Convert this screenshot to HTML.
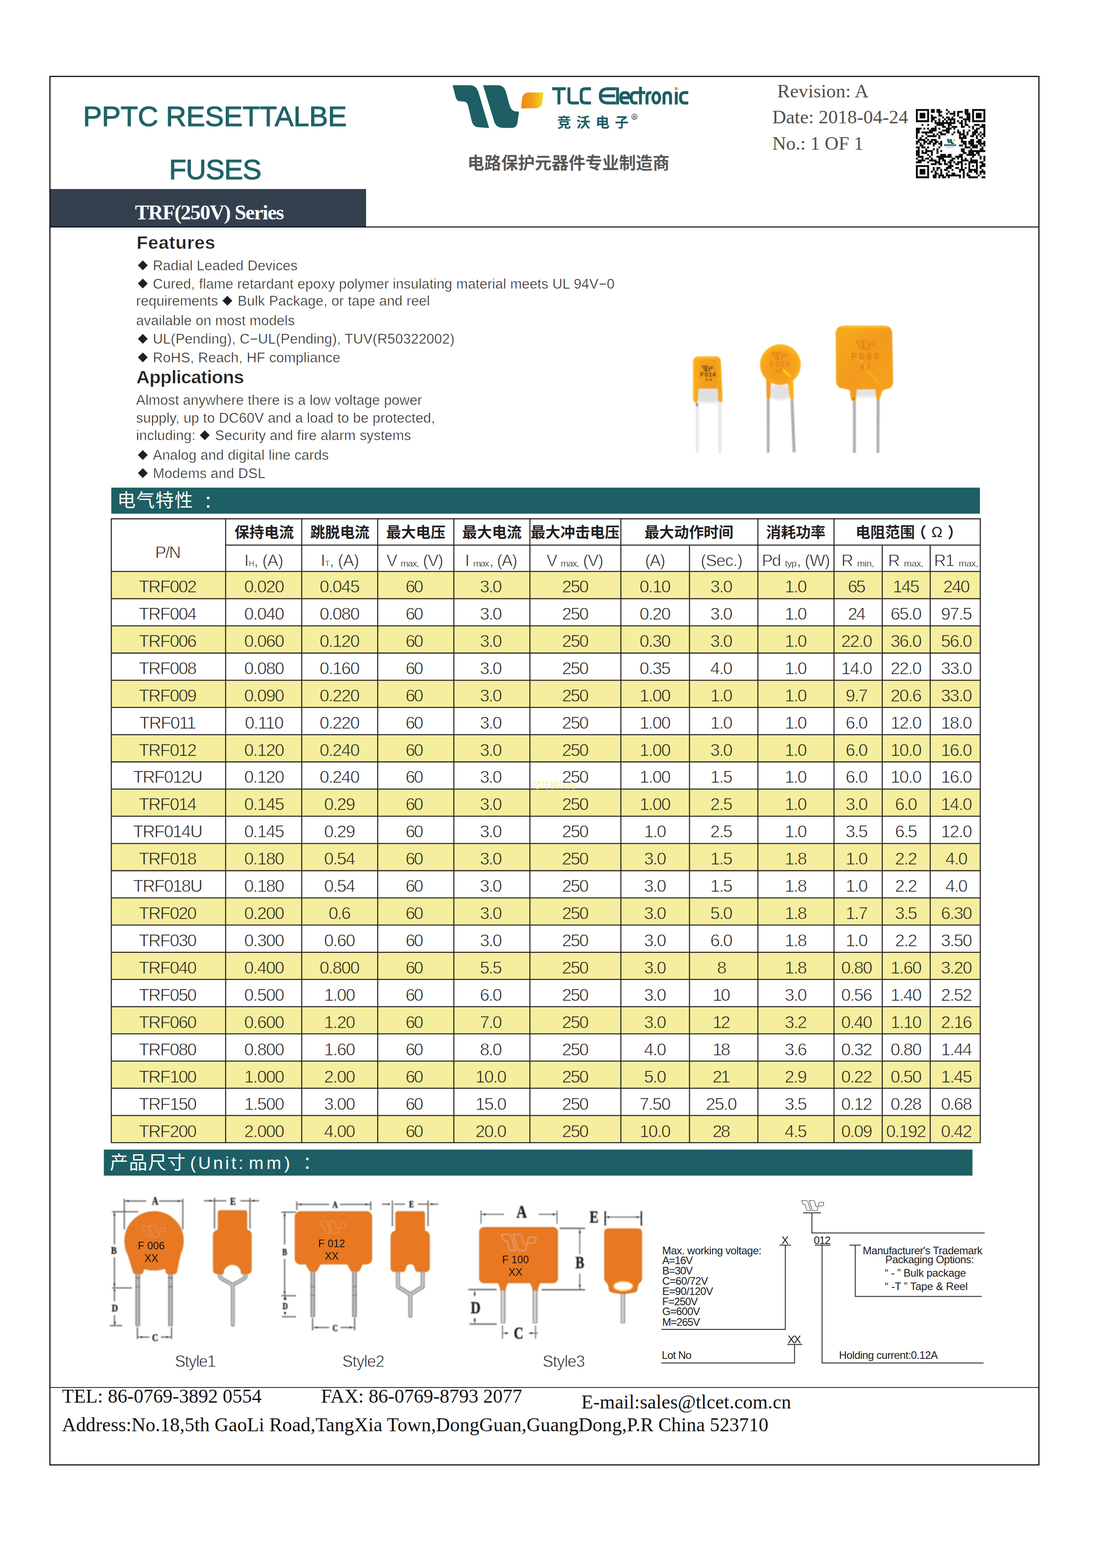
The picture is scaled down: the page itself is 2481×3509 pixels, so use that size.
<!DOCTYPE html>
<html lang="en"><head><meta charset="utf-8"><title>PPTC Resettable Fuses - TRF(250V) Series</title>
<style>
html,body{margin:0;padding:0;background:#fff;}
body{width:2481px;height:3509px;position:relative;overflow:hidden;font-family:"Liberation Sans",sans-serif;color:#231f20;}
.t{position:absolute;white-space:pre;line-height:1;font-family:"Liberation Sans",sans-serif;}
.sf{font-family:"Liberation Serif",serif;}
.c{position:absolute;text-align:center;white-space:nowrap;line-height:1;font-family:"Liberation Sans",sans-serif;}
#gfx{position:absolute;left:0;top:0;}

.lt{-webkit-text-stroke:0.6px #fff;}
.lw{-webkit-text-stroke:0.85px #fff;}
.lh{-webkit-text-stroke:0.55px #fff;}
.lws{-webkit-text-stroke:0.35px #fff;}
.ly{-webkit-text-stroke:0.85px #f5ee9e;}
sub.s{font-size:20px;vertical-align:baseline;position:relative;top:0px;}
</style></head>
<body>

<svg id="gfx" width="2481" height="3509" viewBox="0 0 2481 3509">
<!-- sec_header -->
<rect x="111.7" y="171" width="2212.5" height="3107.3" fill="none" stroke="#000" stroke-width="2.4"/>
<rect x="112" y="506.9" width="2212" height="2.1" fill="#000"/>
<g transform="translate(1000,180) scale(0.14170)">
<path fill="#1d5f64" d="M88,75 H350 C430,75 470,110 495,180 L665,752 L480,738 C430,728 405,690 390,640 L335,410 C320,350 300,335 250,332 L215,330 C165,328 145,300 135,255 Z"/>
<path fill="#1d5f64" d="M570,75 H790 C870,75 905,105 930,180 L985,380 C1005,450 1030,485 1090,490 L1137,490 L1112,670 C1100,730 1070,748 1020,750 H890 C810,750 770,720 745,650 Z"/>
<defs><linearGradient id="lg1" x1="0" x2="1" y1="0" y2="0"><stop offset="0" stop-color="#ee8a1c"/><stop offset="0.45" stop-color="#f39a16"/><stop offset="0.8" stop-color="#f6c21a"/><stop offset="1" stop-color="#f7d61c"/></linearGradient></defs>
<path fill="url(#lg1)" d="M1170,442 L1183,300 C1192,225 1225,192 1290,190 H1521 L1505,330 C1495,405 1465,438 1400,440 Z"/>
</g>
<g transform="translate(1225,185) scale(0.20333)" fill="none" stroke="#1d5f64" stroke-width="32" stroke-linejoin="round">
<path d="M50,67 H200 M125,67 V240"/>
<path d="M235,52 V190 Q235,224 270,224 H345"/>
<path d="M478,67 H415 Q370,67 370,112 V180 Q370,224 415,224 H478"/>
<path d="M752,67 H665 Q580,67 580,145 Q580,224 665,224 H752 M595,145 H742"/>
<path d="M770,52 V240"/>
<path d="M808,166 H893 V150 Q893,110 855,110 H848 Q805,110 805,166 Q805,224 850,224 H897"/>
<path d="M990,110 H958 Q920,110 920,166 Q920,224 958,224 H990"/>
<path d="M1022,45 V240 M985,110 H1075"/>
<path d="M1094,240 V150 Q1094,110 1135,110 H1142"/>
<ellipse cx="1196" cy="167" rx="38" ry="57"/>
<path d="M1281,240 V150 Q1281,110 1317,110 Q1353,110 1353,150 V240"/>
<path d="M1416,100 V240"/>
<path d="M1548,110 H1505 Q1462,110 1462,166 Q1462,224 1505,224 H1548"/>
</g>
<rect x="1509.9" y="195.2" width="6" height="6" fill="#e98b2a"/>
<text x="1246.44" y="285.30" font-family="'Liberation Sans','Noto Sans CJK SC',sans-serif" font-size="31" font-weight="700" letter-spacing="12" fill="#1d5f64">竞沃电子</text>
<circle cx="1419.4" cy="261.3" r="6" fill="none" stroke="#333" stroke-width="1.2"/>
<text x="1419.4" y="264.5" font-family="Liberation Sans" font-size="9" font-weight="700" text-anchor="middle" fill="#333">R</text>
<text x="1045.83" y="377.80" font-family="'Liberation Sans','Noto Sans CJK SC',sans-serif" font-size="37.6" font-weight="700" letter-spacing="0.1" fill="#5a5755">电路保护元器件专业制造商</text>
<!-- sec_text -->
<polygon points="319.5,582.8 330.5,593.8 319.5,604.8 308.5,593.8" fill="#231f20"/>
<polygon points="319.5,623.5 330.5,634.5 319.5,645.5 308.5,634.5" fill="#231f20"/>
<polygon points="508.7,662.0 519.7,673.0 508.7,684.0 497.7,673.0" fill="#231f20"/>
<polygon points="319.5,747.2 330.5,758.2 319.5,769.2 308.5,758.2" fill="#231f20"/>
<polygon points="319.5,788.7 330.5,799.7 319.5,810.7 308.5,799.7" fill="#231f20"/>
<polygon points="458.1,962.9 469.1,973.9 458.1,984.9 447.1,973.9" fill="#231f20"/>
<polygon points="319.5,1007.2 330.5,1018.2 319.5,1029.2 308.5,1018.2" fill="#231f20"/>
<polygon points="319.5,1047.7 330.5,1058.7 319.5,1069.7 308.5,1058.7" fill="#231f20"/>
<!-- sec_photo -->
<defs>
<filter id="bl3" x="-20%" y="-20%" width="140%" height="140%"><feGaussianBlur stdDeviation="3"/></filter>
<filter id="bl05" x="-5%" y="-5%" width="110%" height="110%"><feGaussianBlur stdDeviation="0.55"/></filter>
<filter id="bl1" x="-10%" y="-10%" width="120%" height="120%"><feGaussianBlur stdDeviation="0.8"/></filter>
<linearGradient id="pg1" x1="0" x2="1" y1="0" y2="0"><stop offset="0" stop-color="#fbb21c"/><stop offset="0.25" stop-color="#f5a21c"/><stop offset="0.75" stop-color="#f39c1a"/><stop offset="1" stop-color="#f9ae1a"/></linearGradient>
<radialGradient id="pg2" cx="0.48" cy="0.55" r="0.55"><stop offset="0" stop-color="#f39a1a"/><stop offset="0.7" stop-color="#f5a21a"/><stop offset="1" stop-color="#fbb81a"/></radialGradient>
<linearGradient id="pg3" x1="0" x2="1" y1="0" y2="1"><stop offset="0" stop-color="#f8ab1c"/><stop offset="0.5" stop-color="#f39b1c"/><stop offset="1" stop-color="#f6a51a"/></linearGradient>
<linearGradient id="ld1" x1="0" x2="1" y1="0" y2="0"><stop offset="0" stop-color="#c9c9c9"/><stop offset="0.5" stop-color="#a7a7a7"/><stop offset="1" stop-color="#b9b9b9"/></linearGradient>
<linearGradient id="ld0" x1="0" x2="1" y1="0" y2="0"><stop offset="0" stop-color="#dcdcdc"/><stop offset="0.5" stop-color="#f0f0f0"/><stop offset="1" stop-color="#dedede"/></linearGradient>
</defs>
<g filter="url(#bl1)">
<rect x="1559.7" y="869.1" width="49.0" height="31.4" fill="#dedede" filter="url(#bl3)"/>
<rect x="1557.0" y="902.4" width="6.5" height="110.9" fill="url(#ld0)"/>
<rect x="1607.2" y="900.6" width="7.0" height="113.3" fill="url(#ld0)"/>
<ellipse cx="1559.2" cy="905.2" rx="3" ry="4.5" fill="#9a9a9a"/>
<path d="M1550.5,810.9 Q1550.5,798.0 1563.4,797.6 H1601.3 Q1612.4,798.0 1612.8,810.9 L1616.5,892.2 Q1616.5,900.6 1611.5,900.6 Q1606.5,899.6 1606.0,892.2 L1605.4,870.1 H1562.9 L1561.6,894.1 Q1561.0,901.1 1556.0,901.1 Q1551.1,900.6 1550.7,892.2 Z" fill="url(#pg1)"/>
<rect x="1557.0" y="798.3" width="49.9" height="5" rx="3" fill="#fcc21e" opacity="0.8"/>
<g transform="translate(1570.8,819.2) scale(0.01605)" fill="none" stroke="#3a2c14" stroke-width="99.7" stroke-linejoin="round"><path d="M0,0 H262 C342,0 382,35 407,105 L577,677 L392,663 C342,653 317,615 302,565 L247,335 C232,275 212,260 162,257 L127,255 C77,253 57,225 47,180 Z"/><path d="M482,0 H702 C782,0 817,30 842,105 L897,305 C917,375 942,410 1002,415 L1049,415 L1024,595 C1012,655 982,673 932,675 H802 C722,675 682,645 657,575 Z"/><path d="M1082,367 L1095,225 C1104,150 1137,117 1202,115 H1433 L1417,255 C1407,330 1377,363 1312,365 Z"/></g>
<text x="1566.6" y="843.3" font-family="Liberation Sans" font-size="14.5" font-weight="700" fill="#3a2c14" textLength="35.1">F014</text>
<text x="1579.1" y="851.6" font-family="Liberation Sans" font-size="6.5" font-weight="700" fill="#3a2c14" textLength="13.9">NB</text>
<ellipse cx="1744.6" cy="877.4" rx="26" ry="18" fill="#e2e2e2" filter="url(#bl3)"/>
<polygon points="1715.0,892.2 1721.8,892.2 1721.5,1013.3 1715.2,1013.3" fill="url(#ld1)"/>
<polygon points="1767.7,892.2 1774.7,892.2 1780.3,1012.0 1773.4,1012.4" fill="url(#ld1)"/>
<path d="M1714.1,847.9 L1715.0,890.4 Q1718.7,895.9 1723.0,890.4 L1725.2,847.9 Z" fill="#f39a28"/>
<path d="M1760.3,847.9 L1766.8,890.4 Q1771.4,895.9 1776.0,890.4 L1774.2,844.2 Z" fill="#fbb418"/>
<circle cx="1745.9" cy="816.1" r="45.5" fill="url(#pg2)"/>
<line x1="1753.3" y1="829.0" x2="1766.8" y2="842.0" stroke="#fcd01c" stroke-width="5" stroke-linecap="round"/>
<g transform="translate(1727.9,789.1) scale(0.02182)" fill="none" stroke="#d9791c" stroke-width="82.5" stroke-linejoin="round"><path d="M0,0 H262 C342,0 382,35 407,105 L577,677 L392,663 C342,653 317,615 302,565 L247,335 C232,275 212,260 162,257 L127,255 C77,253 57,225 47,180 Z"/><path d="M482,0 H702 C782,0 817,30 842,105 L897,305 C917,375 942,410 1002,415 L1049,415 L1024,595 C1012,655 982,673 932,675 H802 C722,675 682,645 657,575 Z"/><path d="M1082,367 L1095,225 C1104,150 1137,117 1202,115 H1433 L1417,255 C1407,330 1377,363 1312,365 Z"/></g>
<text x="1722.0" y="820.1" font-family="Liberation Sans" font-size="16.5" font-weight="700" fill="#e27f1c" textLength="46.0">F020</text>
<text x="1735.3" y="834.0" font-family="Liberation Sans" font-size="11.5" font-weight="700" fill="#e27f1c" textLength="15.7">6P</text>
<rect x="1912.6" y="868.6" width="51.0" height="20.0" fill="#e4e4e4" filter="url(#bl3)"/>
<rect x="1907.7" y="893.0" width="7.1" height="120.7" fill="url(#ld1)"/>
<polygon points="1960.9,888.5 1968.0,888.5 1967.1,1013.6 1960.5,1013.6" fill="url(#ld1)"/>
<path d="M1869.5,746.5 Q1869.5,729.7 1888.2,728.8 H1979.1 Q1995.5,729.7 1996.0,746.5 L1998.2,853.0 Q1998.2,868.6 1983.5,870.8 Q1976.0,871.7 1972.5,877.4 L1969.8,888.5 Q1968.0,895.6 1964.5,895.6 Q1960.5,895.6 1960.0,888.5 L1958.3,871.7 H1917.0 L1915.7,888.5 Q1914.8,898.3 1909.5,898.3 Q1903.7,898.3 1902.8,888.5 L1901.5,875.2 Q1899.3,870.8 1888.2,869.9 Q1871.3,868.6 1870.4,853.0 Z" fill="url(#pg3)"/>
<rect x="1881.5" y="729.7" width="104.3" height="4.5" rx="2" fill="#fcc01e" opacity="0.8"/>
<line x1="1923.7" y1="806.4" x2="1965.8" y2="857.5" stroke="#f7ac22" stroke-width="6" stroke-linecap="round" opacity="0.8"/>
<circle cx="1909.5" cy="892.1" r="2" fill="#7a4a10"/>
<g transform="translate(1915.7,762.5) scale(0.02773)" fill="none" stroke="#dc7d1c" stroke-width="79.3" stroke-linejoin="round"><path d="M0,0 H262 C342,0 382,35 407,105 L577,677 L392,663 C342,653 317,615 302,565 L247,335 C232,275 212,260 162,257 L127,255 C77,253 57,225 47,180 Z"/><path d="M482,0 H702 C782,0 817,30 842,105 L897,305 C917,375 942,410 1002,415 L1049,415 L1024,595 C1012,655 982,673 932,675 H802 C722,675 682,645 657,575 Z"/><path d="M1082,367 L1095,225 C1104,150 1137,117 1202,115 H1433 L1417,255 C1407,330 1377,363 1312,365 Z"/></g>
<text x="1903.7" y="805.1" font-family="Liberation Sans" font-size="22" font-weight="700" fill="#dc7d1c" textLength="63.0">F060</text>
<text x="1925.0" y="826.4" font-family="Liberation Sans" font-size="16" font-weight="700" fill="#dc7d1c" textLength="20.9">6J</text>
</g>
<!-- sec_table -->
<rect x="249" y="1091.3" width="1943.3" height="58.3" fill="#1d5f64"/>
<text x="262.13" y="1133.80" font-family="'Liberation Sans','Noto Sans CJK SC',sans-serif" font-size="41" letter-spacing="1.8" fill="#fff">电气特性</text>
<circle cx="465.7" cy="1114.5" r="3" fill="#fff"/><circle cx="465.7" cy="1133.5" r="3" fill="#fff"/>
<rect x="249.0" y="1278.9" width="1944.0" height="60.9" fill="#f5ee9e"/>
<rect x="249.0" y="1400.6" width="1944.0" height="60.9" fill="#f5ee9e"/>
<rect x="249.0" y="1522.4" width="1944.0" height="60.9" fill="#f5ee9e"/>
<rect x="249.0" y="1644.1" width="1944.0" height="60.9" fill="#f5ee9e"/>
<rect x="249.0" y="1765.9" width="1944.0" height="60.9" fill="#f5ee9e"/>
<rect x="249.0" y="1887.6" width="1944.0" height="60.9" fill="#f5ee9e"/>
<rect x="249.0" y="2009.3" width="1944.0" height="60.9" fill="#f5ee9e"/>
<rect x="249.0" y="2131.1" width="1944.0" height="60.9" fill="#f5ee9e"/>
<rect x="249.0" y="2252.8" width="1944.0" height="60.9" fill="#f5ee9e"/>
<rect x="249.0" y="2374.6" width="1944.0" height="60.9" fill="#f5ee9e"/>
<rect x="249.0" y="2496.3" width="1944.0" height="60.9" fill="#f5ee9e"/>
<path d="M249.0,1160.0V2558.2M504.8,1160.0V2558.2M675.0,1160.0V2558.2M845.0,1160.0V2558.2M1015.3,1160.0V2558.2M1185.5,1160.0V2558.2M1389.0,1160.0V2558.2M1542.5,1218.8V2558.2M1695.5,1160.0V2558.2M1865.8,1160.0V2558.2M1973.7,1218.8V2558.2M2081.0,1218.8V2558.2M2193.0,1160.0V2558.2M247.9,1161.0H2194.1M504.8,1219.8H2193.0M247.9,1278.9H2194.1M247.9,1339.8H2194.1M247.9,1400.6H2194.1M247.9,1461.5H2194.1M247.9,1522.4H2194.1M247.9,1583.2H2194.1M247.9,1644.1H2194.1M247.9,1705.0H2194.1M247.9,1765.9H2194.1M247.9,1826.7H2194.1M247.9,1887.6H2194.1M247.9,1948.5H2194.1M247.9,2009.3H2194.1M247.9,2070.2H2194.1M247.9,2131.1H2194.1M247.9,2191.9H2194.1M247.9,2252.8H2194.1M247.9,2313.7H2194.1M247.9,2374.6H2194.1M247.9,2435.4H2194.1M247.9,2496.3H2194.1M247.9,2557.2H2194.1" stroke="#231f20" stroke-width="2.3" fill="none"/>
<g font-family="'Liberation Sans','Noto Sans CJK SC',sans-serif" font-size="33.2" font-weight="700" fill="#231f20">
<text x="524.58" y="1202.60">保持电流</text>
<text x="694.05" y="1202.60">跳脱电流</text>
<text x="863.98" y="1202.60">最大电压</text>
<text x="1034.08" y="1202.60">最大电流</text>
<text x="1187.08" y="1202.60">最大冲击电压</text>
<text x="1441.63" y="1202.60">最大动作时间</text>
<text x="1714.03" y="1202.60">消耗功率</text>
<text x="1913.90" y="1202.60">电阻范围</text>
<text x="2039.00" y="1202.60">（</text>
<text x="2120.00" y="1202.60">）</text>
</g>
<text x="2096" y="1202" font-family="Liberation Sans" font-size="33" text-anchor="middle" fill="#231f20">Ω</text>
<text x="1192.30" y="1764.00" font-family="'Liberation Sans','Noto Sans CJK SC',sans-serif" font-size="19" fill="#f7f48c">芯片模块网</text>
<!-- sec_dims -->
<rect x="232.3" y="2572.6" width="1943.2" height="58.3" fill="#1d5f64"/>
<text x="245.87" y="2616.20" font-family="'Liberation Sans','Noto Sans CJK SC',sans-serif" font-size="41" letter-spacing="1.7" fill="#fff">产品尺寸</text>
<text x="425.27" y="2616.20" font-family="'Liberation Sans','Noto Sans CJK SC',sans-serif" font-size="39.5" fill="#fff" textLength="119" lengthAdjust="spacing">(Unit:</text>
<text x="556.87" y="2616.20" font-family="'Liberation Sans','Noto Sans CJK SC',sans-serif" font-size="39.5" fill="#fff" textLength="92" lengthAdjust="spacing">mm)</text>
<circle cx="687.5" cy="2593.5" r="3" fill="#fff"/><circle cx="687.5" cy="2613" r="3" fill="#fff"/>
<g filter="url(#bl1)">
<g transform="translate(230,2660) scale(0.24030)"><path d="M200,95V380M745,95V380M205,115H405M525,115H745M108,215V520M108,640V925M85,215H330M85,925H270M108,945V1050M108,1180V1270M65,1275H180M322,1290V1400M640,1290V1400M325,1383H435M540,1383H640M1040,85V375M1370,85V375M940,113H1150M1280,113H1455" stroke="#747474" stroke-width="12.5" fill="none"/><circle cx="235" cy="115" r="9" fill="#222"/><circle cx="705" cy="115" r="9" fill="#222"/><circle cx="108" cy="245" r="9" fill="#222"/><circle cx="108" cy="890" r="9" fill="#222"/><circle cx="108" cy="945" r="9" fill="#222"/><circle cx="113" cy="1248" r="9" fill="#222"/><circle cx="360" cy="1383" r="9" fill="#222"/><circle cx="598" cy="1383" r="9" fill="#222"/><circle cx="1000" cy="113" r="9" fill="#222"/><circle cx="1405" cy="113" r="9" fill="#222"/><text transform="translate(487,150) scale(0.8,1)" font-family="Liberation Serif" font-weight="700" font-size="102" text-anchor="middle" fill="#1e1e1e" stroke="#1e1e1e" stroke-width="2.5">A</text><text transform="translate(103,606) scale(0.8,1)" font-family="Liberation Serif" font-weight="700" font-size="100" text-anchor="middle" fill="#1e1e1e" stroke="#1e1e1e" stroke-width="2.5">B</text><text transform="translate(112,1144) scale(0.8,1)" font-family="Liberation Serif" font-weight="700" font-size="100" text-anchor="middle" fill="#1e1e1e" stroke="#1e1e1e" stroke-width="2.5">D</text><text transform="translate(487,1420) scale(0.8,1)" font-family="Liberation Serif" font-weight="700" font-size="100" text-anchor="middle" fill="#1e1e1e" stroke="#1e1e1e" stroke-width="2.5">C</text><text transform="translate(1212,150) scale(0.8,1)" font-family="Liberation Serif" font-weight="700" font-size="100" text-anchor="middle" fill="#1e1e1e" stroke="#1e1e1e" stroke-width="2.5">E</text><rect x="303" y="780" width="44" height="502" rx="6" fill="#8d8d8d"/><rect x="315" y="780" width="19" height="496" fill="#bdbdbd"/><rect x="608" y="780" width="44" height="502" rx="6" fill="#8d8d8d"/><rect x="620" y="780" width="19" height="496" fill="#bdbdbd"/><rect x="303" y="825" width="44" height="14" fill="#7d7d7d"/><rect x="303" y="908" width="44" height="12" fill="#7d7d7d"/><rect x="608" y="825" width="44" height="14" fill="#7d7d7d"/><rect x="608" y="908" width="44" height="12" fill="#7d7d7d"/><g fill="none" stroke="#c08038" stroke-width="9"><circle cx="477" cy="487" r="272"/><path d="M233,605 Q262,700 283,770 Q287,793 312,793 H350 Q372,793 375,770 L382,742 H583 L588,770 Q592,793 615,793 H660 Q684,793 688,770 Q700,700 722,605 Z"/></g><g fill="#e87820"><circle cx="477" cy="487" r="272"/><path d="M233,605 Q262,700 283,770 Q287,793 312,793 H350 Q372,793 375,770 L382,742 H583 L588,770 Q592,793 615,793 H660 Q684,793 688,770 Q700,700 722,605 Z"/></g><g opacity="0.6"><g transform="translate(360.0,345.0) scale(0.15625)" fill="none" stroke="#e0cdb4" stroke-width="25.6" stroke-linejoin="round"><path d="M0,0 H262 C342,0 382,35 407,105 L577,677 L392,663 C342,653 317,615 302,565 L247,335 C232,275 212,260 162,257 L127,255 C77,253 57,225 47,180 Z"/><path d="M482,0 H702 C782,0 817,30 842,105 L897,305 C917,375 942,410 1002,415 L1049,415 L1024,595 C1012,655 982,673 932,675 H802 C722,675 682,645 657,575 Z"/><path d="M1082,367 L1095,225 C1104,150 1137,117 1202,115 H1433 L1417,255 C1407,330 1377,363 1312,365 Z"/></g></g><path d="M1090,790 Q1080,830 1130,852 L1210,897 L1290,852 Q1340,830 1328,790 M1210,897 V1268" stroke="#9a9a9a" stroke-width="38" fill="none" stroke-linecap="round" stroke-linejoin="round"/><path d="M1090,790 Q1080,830 1130,852 L1210,897 L1290,852 Q1340,830 1328,790 M1210,897 V1268" stroke="#c4c4c4" stroke-width="16" fill="none" stroke-linecap="round" stroke-linejoin="round"/><g fill="none" stroke="#c08038" stroke-width="9"><path d="M1075,225 Q1075,205 1095,205 H1320 Q1340,205 1340,225 V385 Q1382,395 1382,430 V750 Q1382,792 1340,792 H1292 A86,86 0 0 0 1120,792 H1070 Q1030,792 1030,750 V430 Q1030,395 1075,385 Z"/></g><g fill="#e87820"><path d="M1075,225 Q1075,205 1095,205 H1320 Q1340,205 1340,225 V385 Q1382,395 1382,430 V750 Q1382,792 1340,792 H1292 A86,86 0 0 0 1120,792 H1070 Q1030,792 1030,750 V430 Q1030,395 1075,385 Z"/></g></g>
<g transform="translate(620,2660) scale(0.24030)"><path d="M183,120V200M872,120V200M190,147H485M585,147H870M70,225V520M70,655V990M40,220H175M40,998H175M45,1193H175M330,1205V1320M722,1205V1320M340,1293H485M590,1293H720M1073,110V350M1405,110V350M975,145H1045M1090,145H1190M1310,145H1400M1420,145H1500" stroke="#747474" stroke-width="12.5" fill="none"/><circle cx="218" cy="147" r="9" fill="#222"/><circle cx="830" cy="147" r="9" fill="#222"/><circle cx="70" cy="250" r="9" fill="#222"/><circle cx="70" cy="965" r="9" fill="#222"/><circle cx="370" cy="1293" r="9" fill="#222"/><circle cx="682" cy="1293" r="9" fill="#222"/><circle cx="1040" cy="145" r="9" fill="#222"/><circle cx="1440" cy="145" r="9" fill="#222"/><path d="M58,1035 L74,1000 L90,1035 Z M62,1150 L86,1150 L74,1180 Z" fill="#222"/><text transform="translate(540,178) scale(0.8,1)" font-family="Liberation Serif" font-weight="700" font-size="86" text-anchor="middle" fill="#1e1e1e" stroke="#1e1e1e" stroke-width="2.5">A</text><text transform="translate(70,620) scale(0.8,1)" font-family="Liberation Serif" font-weight="700" font-size="84" text-anchor="middle" fill="#1e1e1e" stroke="#1e1e1e" stroke-width="2.5">B</text><text transform="translate(75,1124) scale(0.8,1)" font-family="Liberation Serif" font-weight="700" font-size="84" text-anchor="middle" fill="#1e1e1e" stroke="#1e1e1e" stroke-width="2.5">D</text><text transform="translate(540,1326) scale(0.8,1)" font-family="Liberation Serif" font-weight="700" font-size="84" text-anchor="middle" fill="#1e1e1e" stroke="#1e1e1e" stroke-width="2.5">C</text><text transform="translate(1250,176) scale(0.8,1)" font-family="Liberation Serif" font-weight="700" font-size="84" text-anchor="middle" fill="#1e1e1e" stroke="#1e1e1e" stroke-width="2.5">E</text><rect x="310" y="760" width="44" height="437" rx="6" fill="#8d8d8d"/><rect x="322" y="760" width="19" height="431" fill="#bdbdbd"/><rect x="698" y="760" width="44" height="437" rx="6" fill="#8d8d8d"/><rect x="710" y="760" width="19" height="431" fill="#bdbdbd"/><rect x="310" y="908" width="44" height="10" fill="#7d7d7d"/><rect x="310" y="990" width="44" height="10" fill="#7d7d7d"/><rect x="698" y="908" width="44" height="10" fill="#7d7d7d"/><rect x="698" y="990" width="44" height="10" fill="#7d7d7d"/><g fill="none" stroke="#c08038" stroke-width="9"><rect x="168" y="215" width="712" height="487" rx="48"/><path d="M262,690 L298,755 Q304,770 320,770 H350 Q366,770 373,755 L408,690 Z M648,690 L684,755 Q690,770 706,770 H746 Q762,770 768,755 L800,690 Z"/></g><g fill="#e87820"><rect x="168" y="215" width="712" height="487" rx="48"/><path d="M262,690 L298,755 Q304,770 320,770 H350 Q366,770 373,755 L408,690 Z M648,690 L684,755 Q690,770 706,770 H746 Q762,770 768,755 L800,690 Z"/></g><g opacity="0.6"><g transform="translate(400.0,305.0) scale(0.16667)" fill="none" stroke="#e0cdb4" stroke-width="24.0" stroke-linejoin="round"><path d="M0,0 H262 C342,0 382,35 407,105 L577,677 L392,663 C342,653 317,615 302,565 L247,335 C232,275 212,260 162,257 L127,255 C77,253 57,225 47,180 Z"/><path d="M482,0 H702 C782,0 817,30 842,105 L897,305 C917,375 942,410 1002,415 L1049,415 L1024,595 C1012,655 982,673 932,675 H802 C722,675 682,645 657,575 Z"/><path d="M1082,367 L1095,225 C1104,150 1137,117 1202,115 H1433 L1417,255 C1407,330 1377,363 1312,365 Z"/></g></g><path d="M1125,760 V915 L1240,985 M1355,760 V915 L1240,985 M1240,985 V1185" stroke="#9a9a9a" stroke-width="40" fill="none" stroke-linecap="round" stroke-linejoin="round"/><path d="M1125,760 V915 L1240,985 M1355,760 V915 L1240,985 M1240,985 V1185" stroke="#d0d0d0" stroke-width="14" fill="none" stroke-linecap="round" stroke-linejoin="round"/><g fill="none" stroke="#c08038" stroke-width="9"><path d="M1105,235 Q1105,215 1125,215 H1352 Q1372,215 1372,235 V395 Q1417,405 1417,445 V730 Q1417,772 1380,772 H1312 Q1292,772 1286,745 Q1280,700 1240,700 Q1200,700 1194,745 Q1188,772 1168,772 H1095 Q1060,772 1060,730 V445 Q1060,405 1105,395 Z"/></g><g fill="#e87820"><path d="M1105,235 Q1105,215 1125,215 H1352 Q1372,215 1372,235 V395 Q1417,405 1417,445 V730 Q1417,772 1380,772 H1312 Q1292,772 1286,745 Q1280,700 1240,700 Q1200,700 1194,745 Q1188,772 1168,772 H1095 Q1060,772 1060,730 V445 Q1060,405 1105,395 Z"/></g></g>
<g transform="translate(1030,2660) scale(0.27111)"><path d="M170,180V290M797,180V290M175,212H360M645,212H795M985,335V540M985,700V835M118,845V890M118,1065V1110M347,1130V1240M620,1130V1240M355,1193H395M565,1193H640M1200,235H1490" stroke="#747474" stroke-width="9" fill="none"/><path d="M820,328H1030 M670,835H1030 M65,833H300 M75,1118H300" stroke="#6e6e6e" stroke-width="12" fill="none"/><path d="M1195,185V305 M1493,185V305" stroke="#1a1a1a" stroke-width="11" fill="none"/><circle cx="200" cy="212" r="8" fill="#222"/><circle cx="768" cy="212" r="8" fill="#222"/><circle cx="985" cy="360" r="8" fill="#222"/><circle cx="985" cy="800" r="8" fill="#222"/><circle cx="118" cy="870" r="8" fill="#222"/><circle cx="118" cy="1085" r="8" fill="#222"/><circle cx="378" cy="1193" r="8" fill="#222"/><circle cx="585" cy="1193" r="8" fill="#222"/><circle cx="1222" cy="235" r="8" fill="#222"/><circle cx="1460" cy="235" r="8" fill="#222"/><text transform="translate(505,240) scale(0.8,1)" font-family="Liberation Serif" font-weight="700" font-size="150" text-anchor="middle" fill="#1e1e1e" stroke="#1e1e1e" stroke-width="2.5">A</text><text transform="translate(985,655) scale(0.8,1)" font-family="Liberation Serif" font-weight="700" font-size="137" text-anchor="middle" fill="#1e1e1e" stroke="#1e1e1e" stroke-width="2.5">B</text><text transform="translate(125,1030) scale(0.8,1)" font-family="Liberation Serif" font-weight="700" font-size="140" text-anchor="middle" fill="#1e1e1e" stroke="#1e1e1e" stroke-width="2.5">D</text><text transform="translate(480,1238) scale(0.8,1)" font-family="Liberation Serif" font-weight="700" font-size="137" text-anchor="middle" fill="#1e1e1e" stroke="#1e1e1e" stroke-width="2.5">C</text><text transform="translate(1103,280) scale(0.8,1)" font-family="Liberation Serif" font-weight="700" font-size="137" text-anchor="middle" fill="#1e1e1e" stroke="#1e1e1e" stroke-width="2.5">E</text><rect x="333" y="830" width="39" height="283" rx="6" fill="#9b9b9b"/><rect x="343" y="830" width="17" height="277" fill="#d8d8d8"/><rect x="596" y="830" width="41" height="283" rx="6" fill="#9b9b9b"/><rect x="607" y="830" width="18" height="277" fill="#d8d8d8"/><rect x="157" y="320" width="646" height="458" rx="38" fill="#e87820" stroke="#bf6a1c" stroke-width="4"/><path d="M298,772 Q325,790 328,842 H374 Q377,790 404,772 Z M563,772 Q590,790 594,842 H641 Q644,790 670,772 Z" fill="#e87820"/><g opacity="0.75"><g transform="translate(340.0,378.0) scale(0.19792)" fill="none" stroke="#e6d8c6" stroke-width="22.7" stroke-linejoin="round"><path d="M0,0 H262 C342,0 382,35 407,105 L577,677 L392,663 C342,653 317,615 302,565 L247,335 C232,275 212,260 162,257 L127,255 C77,253 57,225 47,180 Z"/><path d="M482,0 H702 C782,0 817,30 842,105 L897,305 C917,375 942,410 1002,415 L1049,415 L1024,595 C1012,655 982,673 932,675 H802 C722,675 682,645 657,575 Z"/><path d="M1082,367 L1095,225 C1104,150 1137,117 1202,115 H1433 L1417,255 C1407,330 1377,363 1312,365 Z"/></g></g><rect x="1322" y="850" width="38" height="263" rx="6" fill="#9b9b9b"/><rect x="1332" y="850" width="16" height="257" fill="#d8d8d8"/><path d="M1188,365 Q1188,330 1223,330 H1462 Q1497,330 1497,365 V740 Q1497,760 1480,775 Q1462,790 1460,830 Q1458,852 1430,857 L1362,868 H1325 L1255,857 Q1228,852 1226,830 Q1224,790 1206,775 Q1188,760 1188,740 Z" fill="#e87820" stroke="#c27a2a" stroke-width="4"/><ellipse cx="1343" cy="805" rx="76" ry="36" fill="#fff" stroke="#f6dc86" stroke-width="9"/></g>
</g>
<g transform="translate(230,2660) scale(0.24030)"><text x="452" y="565" font-family="Liberation Sans" font-size="98" text-anchor="middle" fill="#111">F 006</text><text x="452" y="683" font-family="Liberation Sans" font-size="98" text-anchor="middle" fill="#111">XX</text></g>
<g transform="translate(620,2660) scale(0.24030)"><text x="508" y="545" font-family="Liberation Sans" font-size="98" text-anchor="middle" fill="#111">F 012</text><text x="508" y="662" font-family="Liberation Sans" font-size="98" text-anchor="middle" fill="#111">XX</text></g>
<g transform="translate(1030,2660) scale(0.27111)"><text x="455" y="615" font-family="Liberation Sans" font-size="86" text-anchor="middle" fill="#111">F 100</text><text x="455" y="718" font-family="Liberation Sans" font-size="86" text-anchor="middle" fill="#111">XX</text></g>
<!-- sec_partnum -->
<path d="M1797.7,2714.3H1835.6M1816.4,2714.3V2759.2M1816.4,2759.2H2201.9M1744.7,2786.5H1768.4M1756.8,2786.5V2975.0M1480.4,2975.0H1756.8M1824.0,2786.5H1856.8M1839.1,2786.5V3050.2M1839.1,3050.2H2199.4M1901.3,2786.5H1925.0M1913.4,2786.5V2901.2M1913.4,2901.2H2195.3M1762.3,3008.8H1793.7M1777.5,3008.8V3050.2M1480.4,3050.2H1777.5" stroke="#2a2a2a" stroke-width="2" fill="none" stroke-linecap="square"/>
<g transform="translate(1793.7,2686.5) scale(0.03438)" fill="none" stroke="#333" stroke-width="32.0" stroke-linejoin="round"><path d="M0,0 H262 C342,0 382,35 407,105 L577,677 L392,663 C342,653 317,615 302,565 L247,335 C232,275 212,260 162,257 L127,255 C77,253 57,225 47,180 Z"/><path d="M482,0 H702 C782,0 817,30 842,105 L897,305 C917,375 942,410 1002,415 L1049,415 L1024,595 C1012,655 982,673 932,675 H802 C722,675 682,645 657,575 Z"/><path d="M1082,367 L1095,225 C1104,150 1137,117 1202,115 H1433 L1417,255 C1407,330 1377,363 1312,365 Z"/></g>
<!-- sec_footer -->
<rect x="112" y="3104.2" width="2212" height="1.7" fill="#111"/>
<!-- sec_qr -->
<g filter="url(#bl05)"><path d="M2049.0,244.0h29.5v4.3h-29.5zM2082.6,244.0h8.5v4.3h-8.5zM2095.1,244.0h8.5v4.3h-8.5zM2116.1,244.0h4.3v4.3h-4.3zM2158.1,244.0h8.5v4.3h-8.5zM2174.8,244.0h29.5v4.3h-29.5zM2049.0,248.2h4.3v4.3h-4.3zM2074.2,248.2h4.3v4.3h-4.3zM2082.6,248.2h8.5v4.3h-8.5zM2095.1,248.2h12.7v4.3h-12.7zM2120.3,248.2h4.3v4.3h-4.3zM2132.9,248.2h4.3v4.3h-4.3zM2141.3,248.2h12.7v4.3h-12.7zM2158.1,248.2h8.5v4.3h-8.5zM2174.8,248.2h4.3v4.3h-4.3zM2200.0,248.2h4.3v4.3h-4.3zM2049.0,252.4h4.3v4.3h-4.3zM2057.4,252.4h12.7v4.3h-12.7zM2074.2,252.4h4.3v4.3h-4.3zM2099.3,252.4h4.3v4.3h-4.3zM2116.1,252.4h4.3v4.3h-4.3zM2124.5,252.4h12.7v4.3h-12.7zM2141.3,252.4h4.3v4.3h-4.3zM2158.1,252.4h12.7v4.3h-12.7zM2174.8,252.4h4.3v4.3h-4.3zM2183.2,252.4h12.7v4.3h-12.7zM2200.0,252.4h4.3v4.3h-4.3zM2049.0,256.6h4.3v4.3h-4.3zM2057.4,256.6h12.7v4.3h-12.7zM2074.2,256.6h4.3v4.3h-4.3zM2082.6,256.6h4.3v4.3h-4.3zM2099.3,256.6h8.5v4.3h-8.5zM2132.9,256.6h4.3v4.3h-4.3zM2141.3,256.6h4.3v4.3h-4.3zM2162.3,256.6h8.5v4.3h-8.5zM2174.8,256.6h4.3v4.3h-4.3zM2183.2,256.6h12.7v4.3h-12.7zM2200.0,256.6h4.3v4.3h-4.3zM2049.0,260.7h4.3v4.3h-4.3zM2057.4,260.7h12.7v4.3h-12.7zM2074.2,260.7h4.3v4.3h-4.3zM2082.6,260.7h12.7v4.3h-12.7zM2107.7,260.7h4.3v4.3h-4.3zM2116.1,260.7h8.5v4.3h-8.5zM2128.7,260.7h4.3v4.3h-4.3zM2145.5,260.7h8.5v4.3h-8.5zM2162.3,260.7h8.5v4.3h-8.5zM2174.8,260.7h4.3v4.3h-4.3zM2183.2,260.7h12.7v4.3h-12.7zM2200.0,260.7h4.3v4.3h-4.3zM2049.0,264.9h4.3v4.3h-4.3zM2074.2,264.9h4.3v4.3h-4.3zM2082.6,264.9h8.5v4.3h-8.5zM2099.3,264.9h4.3v4.3h-4.3zM2111.9,264.9h4.3v4.3h-4.3zM2120.3,264.9h16.9v4.3h-16.9zM2153.9,264.9h16.9v4.3h-16.9zM2174.8,264.9h4.3v4.3h-4.3zM2200.0,264.9h4.3v4.3h-4.3zM2049.0,269.1h29.5v4.3h-29.5zM2082.6,269.1h4.3v4.3h-4.3zM2090.9,269.1h4.3v4.3h-4.3zM2099.3,269.1h4.3v4.3h-4.3zM2107.7,269.1h4.3v4.3h-4.3zM2116.1,269.1h4.3v4.3h-4.3zM2124.5,269.1h4.3v4.3h-4.3zM2132.9,269.1h4.3v4.3h-4.3zM2141.3,269.1h4.3v4.3h-4.3zM2149.7,269.1h4.3v4.3h-4.3zM2158.1,269.1h4.3v4.3h-4.3zM2166.4,269.1h4.3v4.3h-4.3zM2174.8,269.1h29.5v4.3h-29.5zM2090.9,273.3h46.3v4.3h-46.3zM2145.5,273.3h8.5v4.3h-8.5zM2158.1,273.3h4.3v4.3h-4.3zM2061.6,277.5h4.3v4.3h-4.3zM2074.2,277.5h4.3v4.3h-4.3zM2095.1,277.5h16.9v4.3h-16.9zM2120.3,277.5h8.5v4.3h-8.5zM2149.7,277.5h4.3v4.3h-4.3zM2158.1,277.5h8.5v4.3h-8.5zM2179.0,277.5h12.7v4.3h-12.7zM2195.8,277.5h8.5v4.3h-8.5zM2090.9,281.7h4.3v4.3h-4.3zM2107.7,281.7h8.5v4.3h-8.5zM2120.3,281.7h4.3v4.3h-4.3zM2128.7,281.7h12.7v4.3h-12.7zM2149.7,281.7h8.5v4.3h-8.5zM2166.4,281.7h4.3v4.3h-4.3zM2174.8,281.7h4.3v4.3h-4.3zM2191.6,281.7h12.7v4.3h-12.7zM2049.0,285.8h12.7v4.3h-12.7zM2065.8,285.8h4.3v4.3h-4.3zM2074.2,285.8h4.3v4.3h-4.3zM2082.6,285.8h12.7v4.3h-12.7zM2099.3,285.8h4.3v4.3h-4.3zM2116.1,285.8h12.7v4.3h-12.7zM2132.9,285.8h4.3v4.3h-4.3zM2174.8,285.8h4.3v4.3h-4.3zM2183.2,285.8h8.5v4.3h-8.5zM2200.0,285.8h4.3v4.3h-4.3zM2049.0,290.0h8.5v4.3h-8.5zM2078.4,290.0h16.9v4.3h-16.9zM2107.7,290.0h16.9v4.3h-16.9zM2141.3,290.0h4.3v4.3h-4.3zM2153.9,290.0h4.3v4.3h-4.3zM2166.4,290.0h4.3v4.3h-4.3zM2179.0,290.0h8.5v4.3h-8.5zM2200.0,290.0h4.3v4.3h-4.3zM2049.0,294.2h8.5v4.3h-8.5zM2061.6,294.2h25.3v4.3h-25.3zM2099.3,294.2h8.5v4.3h-8.5zM2116.1,294.2h8.5v4.3h-8.5zM2132.9,294.2h4.3v4.3h-4.3zM2141.3,294.2h8.5v4.3h-8.5zM2153.9,294.2h4.3v4.3h-4.3zM2162.3,294.2h4.3v4.3h-4.3zM2174.8,294.2h12.7v4.3h-12.7zM2191.6,294.2h4.3v4.3h-4.3zM2200.0,294.2h4.3v4.3h-4.3zM2049.0,298.4h4.3v4.3h-4.3zM2070.0,298.4h4.3v4.3h-4.3zM2086.8,298.4h4.3v4.3h-4.3zM2095.1,298.4h4.3v4.3h-4.3zM2103.5,298.4h12.7v4.3h-12.7zM2128.7,298.4h4.3v4.3h-4.3zM2145.5,298.4h12.7v4.3h-12.7zM2162.3,298.4h4.3v4.3h-4.3zM2174.8,298.4h8.5v4.3h-8.5zM2187.4,298.4h4.3v4.3h-4.3zM2195.8,298.4h8.5v4.3h-8.5zM2049.0,302.6h4.3v4.3h-4.3zM2061.6,302.6h4.3v4.3h-4.3zM2074.2,302.6h21.1v4.3h-21.1zM2099.3,302.6h4.3v4.3h-4.3zM2145.5,302.6h4.3v4.3h-4.3zM2153.9,302.6h8.5v4.3h-8.5zM2170.6,302.6h8.5v4.3h-8.5zM2183.2,302.6h4.3v4.3h-4.3zM2191.6,302.6h4.3v4.3h-4.3zM2200.0,302.6h4.3v4.3h-4.3zM2049.0,306.8h4.3v4.3h-4.3zM2057.4,306.8h4.3v4.3h-4.3zM2070.0,306.8h4.3v4.3h-4.3zM2099.3,306.8h4.3v4.3h-4.3zM2145.5,306.8h16.9v4.3h-16.9zM2183.2,306.8h4.3v4.3h-4.3zM2195.8,306.8h4.3v4.3h-4.3zM2053.2,310.9h16.9v4.3h-16.9zM2074.2,310.9h4.3v4.3h-4.3zM2082.6,310.9h12.7v4.3h-12.7zM2149.7,310.9h4.3v4.3h-4.3zM2170.6,310.9h8.5v4.3h-8.5zM2187.4,310.9h8.5v4.3h-8.5zM2049.0,315.1h8.5v4.3h-8.5zM2065.8,315.1h8.5v4.3h-8.5zM2078.4,315.1h8.5v4.3h-8.5zM2090.9,315.1h8.5v4.3h-8.5zM2103.5,315.1h4.3v4.3h-4.3zM2149.7,315.1h12.7v4.3h-12.7zM2166.4,315.1h12.7v4.3h-12.7zM2183.2,315.1h12.7v4.3h-12.7zM2200.0,315.1h4.3v4.3h-4.3zM2049.0,319.3h4.3v4.3h-4.3zM2057.4,319.3h4.3v4.3h-4.3zM2065.8,319.3h4.3v4.3h-4.3zM2074.2,319.3h8.5v4.3h-8.5zM2086.8,319.3h8.5v4.3h-8.5zM2099.3,319.3h8.5v4.3h-8.5zM2153.9,319.3h8.5v4.3h-8.5zM2166.4,319.3h12.7v4.3h-12.7zM2187.4,319.3h16.9v4.3h-16.9zM2057.4,323.5h8.5v4.3h-8.5zM2086.8,323.5h4.3v4.3h-4.3zM2103.5,323.5h4.3v4.3h-4.3zM2145.5,323.5h8.5v4.3h-8.5zM2158.1,323.5h4.3v4.3h-4.3zM2170.6,323.5h16.9v4.3h-16.9zM2191.6,323.5h4.3v4.3h-4.3zM2200.0,323.5h4.3v4.3h-4.3zM2049.0,327.7h8.5v4.3h-8.5zM2061.6,327.7h8.5v4.3h-8.5zM2074.2,327.7h4.3v4.3h-4.3zM2099.3,327.7h4.3v4.3h-4.3zM2158.1,327.7h12.7v4.3h-12.7zM2174.8,327.7h12.7v4.3h-12.7zM2195.8,327.7h4.3v4.3h-4.3zM2053.2,331.9h4.3v4.3h-4.3zM2070.0,331.9h4.3v4.3h-4.3zM2086.8,331.9h4.3v4.3h-4.3zM2095.1,331.9h4.3v4.3h-4.3zM2149.7,331.9h8.5v4.3h-8.5zM2170.6,331.9h4.3v4.3h-4.3zM2191.6,331.9h8.5v4.3h-8.5zM2049.0,336.0h8.5v4.3h-8.5zM2061.6,336.0h4.3v4.3h-4.3zM2070.0,336.0h16.9v4.3h-16.9zM2095.1,336.0h4.3v4.3h-4.3zM2103.5,336.0h4.3v4.3h-4.3zM2149.7,336.0h8.5v4.3h-8.5zM2166.4,336.0h37.9v4.3h-37.9zM2049.0,340.2h8.5v4.3h-8.5zM2061.6,340.2h12.7v4.3h-12.7zM2082.6,340.2h4.3v4.3h-4.3zM2095.1,340.2h4.3v4.3h-4.3zM2153.9,340.2h8.5v4.3h-8.5zM2166.4,340.2h12.7v4.3h-12.7zM2183.2,340.2h8.5v4.3h-8.5zM2049.0,344.4h8.5v4.3h-8.5zM2074.2,344.4h4.3v4.3h-4.3zM2082.6,344.4h4.3v4.3h-4.3zM2103.5,344.4h12.7v4.3h-12.7zM2120.3,344.4h8.5v4.3h-8.5zM2145.5,344.4h8.5v4.3h-8.5zM2162.3,344.4h21.1v4.3h-21.1zM2187.4,344.4h4.3v4.3h-4.3zM2053.2,348.6h12.7v4.3h-12.7zM2078.4,348.6h4.3v4.3h-4.3zM2095.1,348.6h33.7v4.3h-33.7zM2137.1,348.6h16.9v4.3h-16.9zM2174.8,348.6h4.3v4.3h-4.3zM2191.6,348.6h4.3v4.3h-4.3zM2200.0,348.6h4.3v4.3h-4.3zM2049.0,352.8h4.3v4.3h-4.3zM2061.6,352.8h4.3v4.3h-4.3zM2070.0,352.8h8.5v4.3h-8.5zM2082.6,352.8h4.3v4.3h-4.3zM2099.3,352.8h12.7v4.3h-12.7zM2128.7,352.8h8.5v4.3h-8.5zM2141.3,352.8h4.3v4.3h-4.3zM2149.7,352.8h4.3v4.3h-4.3zM2158.1,352.8h4.3v4.3h-4.3zM2170.6,352.8h4.3v4.3h-4.3zM2191.6,352.8h4.3v4.3h-4.3zM2200.0,352.8h4.3v4.3h-4.3zM2053.2,357.0h16.9v4.3h-16.9zM2078.4,357.0h16.9v4.3h-16.9zM2099.3,357.0h4.3v4.3h-4.3zM2107.7,357.0h8.5v4.3h-8.5zM2124.5,357.0h8.5v4.3h-8.5zM2149.7,357.0h16.9v4.3h-16.9zM2170.6,357.0h16.9v4.3h-16.9zM2200.0,357.0h4.3v4.3h-4.3zM2049.0,361.1h12.7v4.3h-12.7zM2074.2,361.1h4.3v4.3h-4.3zM2090.9,361.1h12.7v4.3h-12.7zM2111.9,361.1h4.3v4.3h-4.3zM2120.3,361.1h8.5v4.3h-8.5zM2132.9,361.1h4.3v4.3h-4.3zM2141.3,361.1h12.7v4.3h-12.7zM2166.4,361.1h21.1v4.3h-21.1zM2191.6,361.1h8.5v4.3h-8.5zM2082.6,365.3h12.7v4.3h-12.7zM2099.3,365.3h8.5v4.3h-8.5zM2111.9,365.3h8.5v4.3h-8.5zM2124.5,365.3h4.3v4.3h-4.3zM2137.1,365.3h8.5v4.3h-8.5zM2149.7,365.3h4.3v4.3h-4.3zM2158.1,365.3h4.3v4.3h-4.3zM2166.4,365.3h4.3v4.3h-4.3zM2183.2,365.3h4.3v4.3h-4.3zM2195.8,365.3h8.5v4.3h-8.5zM2049.0,369.5h29.5v4.3h-29.5zM2120.3,369.5h12.7v4.3h-12.7zM2149.7,369.5h4.3v4.3h-4.3zM2166.4,369.5h4.3v4.3h-4.3zM2174.8,369.5h4.3v4.3h-4.3zM2183.2,369.5h4.3v4.3h-4.3zM2191.6,369.5h12.7v4.3h-12.7zM2049.0,373.7h4.3v4.3h-4.3zM2074.2,373.7h4.3v4.3h-4.3zM2086.8,373.7h4.3v4.3h-4.3zM2095.1,373.7h8.5v4.3h-8.5zM2116.1,373.7h12.7v4.3h-12.7zM2137.1,373.7h8.5v4.3h-8.5zM2149.7,373.7h4.3v4.3h-4.3zM2158.1,373.7h4.3v4.3h-4.3zM2166.4,373.7h4.3v4.3h-4.3zM2183.2,373.7h4.3v4.3h-4.3zM2191.6,373.7h4.3v4.3h-4.3zM2049.0,377.9h4.3v4.3h-4.3zM2057.4,377.9h12.7v4.3h-12.7zM2074.2,377.9h4.3v4.3h-4.3zM2086.8,377.9h4.3v4.3h-4.3zM2095.1,377.9h4.3v4.3h-4.3zM2103.5,377.9h4.3v4.3h-4.3zM2111.9,377.9h8.5v4.3h-8.5zM2128.7,377.9h4.3v4.3h-4.3zM2145.5,377.9h12.7v4.3h-12.7zM2166.4,377.9h21.1v4.3h-21.1zM2195.8,377.9h4.3v4.3h-4.3zM2049.0,382.1h4.3v4.3h-4.3zM2057.4,382.1h12.7v4.3h-12.7zM2074.2,382.1h4.3v4.3h-4.3zM2082.6,382.1h4.3v4.3h-4.3zM2090.9,382.1h4.3v4.3h-4.3zM2103.5,382.1h4.3v4.3h-4.3zM2120.3,382.1h4.3v4.3h-4.3zM2145.5,382.1h4.3v4.3h-4.3zM2153.9,382.1h4.3v4.3h-4.3zM2166.4,382.1h8.5v4.3h-8.5zM2179.0,382.1h8.5v4.3h-8.5zM2191.6,382.1h12.7v4.3h-12.7zM2049.0,386.2h4.3v4.3h-4.3zM2057.4,386.2h12.7v4.3h-12.7zM2074.2,386.2h4.3v4.3h-4.3zM2090.9,386.2h8.5v4.3h-8.5zM2103.5,386.2h4.3v4.3h-4.3zM2116.1,386.2h4.3v4.3h-4.3zM2128.7,386.2h8.5v4.3h-8.5zM2153.9,386.2h4.3v4.3h-4.3zM2162.3,386.2h4.3v4.3h-4.3zM2183.2,386.2h4.3v4.3h-4.3zM2191.6,386.2h4.3v4.3h-4.3zM2200.0,386.2h4.3v4.3h-4.3zM2049.0,390.4h4.3v4.3h-4.3zM2074.2,390.4h4.3v4.3h-4.3zM2086.8,390.4h8.5v4.3h-8.5zM2099.3,390.4h12.7v4.3h-12.7zM2116.1,390.4h33.7v4.3h-33.7zM2153.9,390.4h4.3v4.3h-4.3zM2162.3,390.4h8.5v4.3h-8.5zM2187.4,390.4h4.3v4.3h-4.3zM2049.0,394.6h29.5v4.3h-29.5zM2086.8,394.6h8.5v4.3h-8.5zM2099.3,394.6h4.3v4.3h-4.3zM2107.7,394.6h8.5v4.3h-8.5zM2120.3,394.6h4.3v4.3h-4.3zM2145.5,394.6h4.3v4.3h-4.3zM2153.9,394.6h4.3v4.3h-4.3zM2166.4,394.6h21.1v4.3h-21.1zM2195.8,394.6h8.5v4.3h-8.5z" fill="#0c0c0c"/>
<rect x="2112" y="322.5" width="27" height="4.5" fill="#355f74" opacity="0.85"/><path d="M2118,311 h5 l3,9 h-5 z M2124.5,311 h4 l2,6 q1,3 4,3 l-0.5,2 h-5 q-2,0 -3,-3 z" fill="#1d5f64"/><rect x="2133" y="312" width="4" height="4" fill="#f0b030"/><rect x="2117" y="329.5" width="17" height="1.6" fill="#999" opacity="0.7"/>
</g>
</svg>
<!-- sec_header -->
<div class="t" style="left:185.8px;top:228.6px;font-size:63.5px;letter-spacing:-0.37px;color:#1f6368;-webkit-text-stroke:1.3px #1f6368;">PPTC RESETTALBE</div>
<div class="t" style="left:378.0px;top:348.3px;font-size:63.5px;letter-spacing:-1.18px;color:#1f6368;-webkit-text-stroke:1.3px #1f6368;">FUSES</div>
<div style="position:absolute;left:113px;top:423px;width:705.5px;height:83.8px;background:#35404f"></div>
<div class="t sf" style="left:302.0px;top:452.6px;font-size:46.5px;letter-spacing:-1.60px;color:#fff;font-weight:700;">TRF(250V) Series</div>
<div class="t sf" style="left:1738.8px;top:182.7px;font-size:42.8px;letter-spacing:0.07px;color:#524e4a;">Revision: A</div>
<div class="t sf" style="left:1727.7px;top:241.1px;font-size:42.8px;letter-spacing:0.06px;color:#524e4a;">Date: 2018-04-24</div>
<div class="t sf" style="left:1727.7px;top:299.5px;font-size:42.8px;letter-spacing:-0.05px;color:#524e4a;">No.: 1 OF 1</div>
<!-- sec_text -->
<div class="t lh" style="left:305.5px;top:523.4px;font-size:41.3px;letter-spacing:0.55px;color:#231f20;font-weight:700;">Features</div>
<div class="t lh" style="left:305.0px;top:823.6px;font-size:41.3px;letter-spacing:-0.62px;color:#231f20;font-weight:700;">Applications</div>
<div class="t lt" style="left:342.0px;top:578.9px;font-size:31.0px;letter-spacing:0.23px;color:#231f20;">Radial Leaded Devices</div>
<div class="t lt" style="left:342.0px;top:619.6px;font-size:31.0px;letter-spacing:0.21px;color:#231f20;">Cured, flame retardant epoxy polymer insulating material meets UL 94V−0</div>
<div class="t lt" style="left:304.5px;top:658.1px;font-size:31.0px;letter-spacing:0.22px;color:#231f20;">requirements </div>
<div class="t lt" style="left:531.7px;top:658.1px;font-size:31.0px;letter-spacing:0.21px;color:#231f20;">Bulk Package, or tape and reel</div>
<div class="t lt" style="left:304.5px;top:702.0px;font-size:31.0px;letter-spacing:0.22px;color:#231f20;">available on most models</div>
<div class="t lt" style="left:342.0px;top:743.3px;font-size:31.0px;letter-spacing:0.23px;color:#231f20;">UL(Pending), C−UL(Pending), TUV(R50322002)</div>
<div class="t lt" style="left:342.0px;top:784.8px;font-size:31.0px;letter-spacing:0.23px;color:#231f20;">RoHS, Reach, HF compliance</div>
<div class="t lt" style="left:304.5px;top:879.5px;font-size:31.0px;letter-spacing:0.21px;color:#231f20;">Almost anywhere there is a low voltage power</div>
<div class="t lt" style="left:304.5px;top:920.0px;font-size:31.0px;letter-spacing:0.20px;color:#231f20;">supply, up to DC60V and a load to be protected,</div>
<div class="t lt" style="left:304.5px;top:959.0px;font-size:31.0px;letter-spacing:0.20px;color:#231f20;">including: </div>
<div class="t lt" style="left:481.1px;top:959.0px;font-size:31.0px;letter-spacing:0.20px;color:#231f20;">Security and fire alarm systems</div>
<div class="t lt" style="left:342.0px;top:1003.3px;font-size:31.0px;letter-spacing:0.20px;color:#231f20;">Analog and digital line cards</div>
<div class="t lt" style="left:342.0px;top:1043.8px;font-size:31.0px;letter-spacing:0.27px;color:#231f20;">Modems and DSL</div>
<!-- sec_table -->
<div class="t ly" style="left:310.4px;top:1293.8px;font-size:38.8px;letter-spacing:-2.02px;color:#231f20;">TRF002</div>
<div class="t ly" style="left:546.3px;top:1293.8px;font-size:38.8px;letter-spacing:-1.75px;color:#231f20;">0.020</div>
<div class="t ly" style="left:714.9px;top:1293.8px;font-size:38.8px;letter-spacing:-1.75px;color:#231f20;">0.045</div>
<div class="t ly" style="left:907.3px;top:1293.8px;font-size:38.8px;letter-spacing:-3.11px;color:#231f20;">60</div>
<div class="t ly" style="left:1073.4px;top:1293.8px;font-size:38.8px;letter-spacing:-1.94px;color:#231f20;">3.0</div>
<div class="t ly" style="left:1257.2px;top:1293.8px;font-size:38.8px;letter-spacing:-2.33px;color:#231f20;">250</div>
<div class="t ly" style="left:1430.7px;top:1293.8px;font-size:38.8px;letter-spacing:-1.81px;color:#231f20;">0.10</div>
<div class="t ly" style="left:1589.0px;top:1293.8px;font-size:38.8px;letter-spacing:-1.94px;color:#231f20;">3.0</div>
<div class="t ly" style="left:1755.6px;top:1293.8px;font-size:38.8px;letter-spacing:-1.94px;color:#231f20;">1.0</div>
<div class="t ly" style="left:1896.7px;top:1293.8px;font-size:38.8px;letter-spacing:-3.11px;color:#231f20;">65</div>
<div class="t ly" style="left:1997.3px;top:1293.8px;font-size:38.8px;letter-spacing:-2.33px;color:#231f20;">145</div>
<div class="t ly" style="left:2110.0px;top:1293.8px;font-size:38.8px;letter-spacing:-2.33px;color:#231f20;">240</div>
<div class="t lw" style="left:310.4px;top:1354.7px;font-size:38.8px;letter-spacing:-2.02px;color:#231f20;">TRF004</div>
<div class="t lw" style="left:546.3px;top:1354.7px;font-size:38.8px;letter-spacing:-1.75px;color:#231f20;">0.040</div>
<div class="t lw" style="left:714.9px;top:1354.7px;font-size:38.8px;letter-spacing:-1.75px;color:#231f20;">0.080</div>
<div class="t lw" style="left:907.3px;top:1354.7px;font-size:38.8px;letter-spacing:-3.11px;color:#231f20;">60</div>
<div class="t lw" style="left:1073.4px;top:1354.7px;font-size:38.8px;letter-spacing:-1.94px;color:#231f20;">3.0</div>
<div class="t lw" style="left:1257.2px;top:1354.7px;font-size:38.8px;letter-spacing:-2.33px;color:#231f20;">250</div>
<div class="t lw" style="left:1430.7px;top:1354.7px;font-size:38.8px;letter-spacing:-1.81px;color:#231f20;">0.20</div>
<div class="t lw" style="left:1589.0px;top:1354.7px;font-size:38.8px;letter-spacing:-1.94px;color:#231f20;">3.0</div>
<div class="t lw" style="left:1755.6px;top:1354.7px;font-size:38.8px;letter-spacing:-1.94px;color:#231f20;">1.0</div>
<div class="t lw" style="left:1896.7px;top:1354.7px;font-size:38.8px;letter-spacing:-3.11px;color:#231f20;">24</div>
<div class="t lw" style="left:1992.3px;top:1354.7px;font-size:38.8px;letter-spacing:-1.81px;color:#231f20;">65.0</div>
<div class="t lw" style="left:2105.0px;top:1354.7px;font-size:38.8px;letter-spacing:-1.81px;color:#231f20;">97.5</div>
<div class="t ly" style="left:310.4px;top:1415.7px;font-size:38.8px;letter-spacing:-2.02px;color:#231f20;">TRF006</div>
<div class="t ly" style="left:546.3px;top:1415.7px;font-size:38.8px;letter-spacing:-1.75px;color:#231f20;">0.060</div>
<div class="t ly" style="left:714.9px;top:1415.7px;font-size:38.8px;letter-spacing:-1.75px;color:#231f20;">0.120</div>
<div class="t ly" style="left:907.3px;top:1415.7px;font-size:38.8px;letter-spacing:-3.11px;color:#231f20;">60</div>
<div class="t ly" style="left:1073.4px;top:1415.7px;font-size:38.8px;letter-spacing:-1.94px;color:#231f20;">3.0</div>
<div class="t ly" style="left:1257.2px;top:1415.7px;font-size:38.8px;letter-spacing:-2.33px;color:#231f20;">250</div>
<div class="t ly" style="left:1430.7px;top:1415.7px;font-size:38.8px;letter-spacing:-1.81px;color:#231f20;">0.30</div>
<div class="t ly" style="left:1589.0px;top:1415.7px;font-size:38.8px;letter-spacing:-1.94px;color:#231f20;">3.0</div>
<div class="t ly" style="left:1755.6px;top:1415.7px;font-size:38.8px;letter-spacing:-1.94px;color:#231f20;">1.0</div>
<div class="t ly" style="left:1881.7px;top:1415.7px;font-size:38.8px;letter-spacing:-1.81px;color:#231f20;">22.0</div>
<div class="t ly" style="left:1992.3px;top:1415.7px;font-size:38.8px;letter-spacing:-1.81px;color:#231f20;">36.0</div>
<div class="t ly" style="left:2105.0px;top:1415.7px;font-size:38.8px;letter-spacing:-1.81px;color:#231f20;">56.0</div>
<div class="t lw" style="left:310.4px;top:1476.6px;font-size:38.8px;letter-spacing:-2.02px;color:#231f20;">TRF008</div>
<div class="t lw" style="left:546.3px;top:1476.6px;font-size:38.8px;letter-spacing:-1.75px;color:#231f20;">0.080</div>
<div class="t lw" style="left:714.9px;top:1476.6px;font-size:38.8px;letter-spacing:-1.75px;color:#231f20;">0.160</div>
<div class="t lw" style="left:907.3px;top:1476.6px;font-size:38.8px;letter-spacing:-3.11px;color:#231f20;">60</div>
<div class="t lw" style="left:1073.4px;top:1476.6px;font-size:38.8px;letter-spacing:-1.94px;color:#231f20;">3.0</div>
<div class="t lw" style="left:1257.2px;top:1476.6px;font-size:38.8px;letter-spacing:-2.33px;color:#231f20;">250</div>
<div class="t lw" style="left:1430.7px;top:1476.6px;font-size:38.8px;letter-spacing:-1.81px;color:#231f20;">0.35</div>
<div class="t lw" style="left:1589.0px;top:1476.6px;font-size:38.8px;letter-spacing:-1.94px;color:#231f20;">4.0</div>
<div class="t lw" style="left:1755.6px;top:1476.6px;font-size:38.8px;letter-spacing:-1.94px;color:#231f20;">1.0</div>
<div class="t lw" style="left:1881.7px;top:1476.6px;font-size:38.8px;letter-spacing:-1.81px;color:#231f20;">14.0</div>
<div class="t lw" style="left:1992.3px;top:1476.6px;font-size:38.8px;letter-spacing:-1.81px;color:#231f20;">22.0</div>
<div class="t lw" style="left:2105.0px;top:1476.6px;font-size:38.8px;letter-spacing:-1.81px;color:#231f20;">33.0</div>
<div class="t ly" style="left:310.4px;top:1537.6px;font-size:38.8px;letter-spacing:-2.02px;color:#231f20;">TRF009</div>
<div class="t ly" style="left:546.3px;top:1537.6px;font-size:38.8px;letter-spacing:-1.75px;color:#231f20;">0.090</div>
<div class="t ly" style="left:714.9px;top:1537.6px;font-size:38.8px;letter-spacing:-1.75px;color:#231f20;">0.220</div>
<div class="t ly" style="left:907.3px;top:1537.6px;font-size:38.8px;letter-spacing:-3.11px;color:#231f20;">60</div>
<div class="t ly" style="left:1073.4px;top:1537.6px;font-size:38.8px;letter-spacing:-1.94px;color:#231f20;">3.0</div>
<div class="t ly" style="left:1257.2px;top:1537.6px;font-size:38.8px;letter-spacing:-2.33px;color:#231f20;">250</div>
<div class="t ly" style="left:1430.7px;top:1537.6px;font-size:38.8px;letter-spacing:-1.81px;color:#231f20;">1.00</div>
<div class="t ly" style="left:1589.0px;top:1537.6px;font-size:38.8px;letter-spacing:-1.94px;color:#231f20;">1.0</div>
<div class="t ly" style="left:1755.6px;top:1537.6px;font-size:38.8px;letter-spacing:-1.94px;color:#231f20;">1.0</div>
<div class="t ly" style="left:1891.7px;top:1537.6px;font-size:38.8px;letter-spacing:-1.94px;color:#231f20;">9.7</div>
<div class="t ly" style="left:1992.3px;top:1537.6px;font-size:38.8px;letter-spacing:-1.81px;color:#231f20;">20.6</div>
<div class="t ly" style="left:2105.0px;top:1537.6px;font-size:38.8px;letter-spacing:-1.81px;color:#231f20;">33.0</div>
<div class="t lw" style="left:311.7px;top:1598.5px;font-size:38.8px;letter-spacing:-1.98px;color:#231f20;">TRF011</div>
<div class="t lw" style="left:547.7px;top:1598.5px;font-size:38.8px;letter-spacing:-1.70px;color:#231f20;">0.110</div>
<div class="t lw" style="left:714.9px;top:1598.5px;font-size:38.8px;letter-spacing:-1.75px;color:#231f20;">0.220</div>
<div class="t lw" style="left:907.3px;top:1598.5px;font-size:38.8px;letter-spacing:-3.11px;color:#231f20;">60</div>
<div class="t lw" style="left:1073.4px;top:1598.5px;font-size:38.8px;letter-spacing:-1.94px;color:#231f20;">3.0</div>
<div class="t lw" style="left:1257.2px;top:1598.5px;font-size:38.8px;letter-spacing:-2.33px;color:#231f20;">250</div>
<div class="t lw" style="left:1430.7px;top:1598.5px;font-size:38.8px;letter-spacing:-1.81px;color:#231f20;">1.00</div>
<div class="t lw" style="left:1589.0px;top:1598.5px;font-size:38.8px;letter-spacing:-1.94px;color:#231f20;">1.0</div>
<div class="t lw" style="left:1755.6px;top:1598.5px;font-size:38.8px;letter-spacing:-1.94px;color:#231f20;">1.0</div>
<div class="t lw" style="left:1891.7px;top:1598.5px;font-size:38.8px;letter-spacing:-1.94px;color:#231f20;">6.0</div>
<div class="t lw" style="left:1992.3px;top:1598.5px;font-size:38.8px;letter-spacing:-1.81px;color:#231f20;">12.0</div>
<div class="t lw" style="left:2105.0px;top:1598.5px;font-size:38.8px;letter-spacing:-1.81px;color:#231f20;">18.0</div>
<div class="t ly" style="left:310.4px;top:1659.5px;font-size:38.8px;letter-spacing:-2.02px;color:#231f20;">TRF012</div>
<div class="t ly" style="left:546.3px;top:1659.5px;font-size:38.8px;letter-spacing:-1.75px;color:#231f20;">0.120</div>
<div class="t ly" style="left:714.9px;top:1659.5px;font-size:38.8px;letter-spacing:-1.75px;color:#231f20;">0.240</div>
<div class="t ly" style="left:907.3px;top:1659.5px;font-size:38.8px;letter-spacing:-3.11px;color:#231f20;">60</div>
<div class="t ly" style="left:1073.4px;top:1659.5px;font-size:38.8px;letter-spacing:-1.94px;color:#231f20;">3.0</div>
<div class="t ly" style="left:1257.2px;top:1659.5px;font-size:38.8px;letter-spacing:-2.33px;color:#231f20;">250</div>
<div class="t ly" style="left:1430.7px;top:1659.5px;font-size:38.8px;letter-spacing:-1.81px;color:#231f20;">1.00</div>
<div class="t ly" style="left:1589.0px;top:1659.5px;font-size:38.8px;letter-spacing:-1.94px;color:#231f20;">3.0</div>
<div class="t ly" style="left:1755.6px;top:1659.5px;font-size:38.8px;letter-spacing:-1.94px;color:#231f20;">1.0</div>
<div class="t ly" style="left:1891.7px;top:1659.5px;font-size:38.8px;letter-spacing:-1.94px;color:#231f20;">6.0</div>
<div class="t ly" style="left:1992.3px;top:1659.5px;font-size:38.8px;letter-spacing:-1.81px;color:#231f20;">10.0</div>
<div class="t ly" style="left:2105.0px;top:1659.5px;font-size:38.8px;letter-spacing:-1.81px;color:#231f20;">16.0</div>
<div class="t lw" style="left:297.4px;top:1720.4px;font-size:38.8px;letter-spacing:-2.02px;color:#231f20;">TRF012U</div>
<div class="t lw" style="left:546.3px;top:1720.4px;font-size:38.8px;letter-spacing:-1.75px;color:#231f20;">0.120</div>
<div class="t lw" style="left:714.9px;top:1720.4px;font-size:38.8px;letter-spacing:-1.75px;color:#231f20;">0.240</div>
<div class="t lw" style="left:907.3px;top:1720.4px;font-size:38.8px;letter-spacing:-3.11px;color:#231f20;">60</div>
<div class="t lw" style="left:1073.4px;top:1720.4px;font-size:38.8px;letter-spacing:-1.94px;color:#231f20;">3.0</div>
<div class="t lw" style="left:1257.2px;top:1720.4px;font-size:38.8px;letter-spacing:-2.33px;color:#231f20;">250</div>
<div class="t lw" style="left:1430.7px;top:1720.4px;font-size:38.8px;letter-spacing:-1.81px;color:#231f20;">1.00</div>
<div class="t lw" style="left:1589.0px;top:1720.4px;font-size:38.8px;letter-spacing:-1.94px;color:#231f20;">1.5</div>
<div class="t lw" style="left:1755.6px;top:1720.4px;font-size:38.8px;letter-spacing:-1.94px;color:#231f20;">1.0</div>
<div class="t lw" style="left:1891.7px;top:1720.4px;font-size:38.8px;letter-spacing:-1.94px;color:#231f20;">6.0</div>
<div class="t lw" style="left:1992.3px;top:1720.4px;font-size:38.8px;letter-spacing:-1.81px;color:#231f20;">10.0</div>
<div class="t lw" style="left:2105.0px;top:1720.4px;font-size:38.8px;letter-spacing:-1.81px;color:#231f20;">16.0</div>
<div class="t ly" style="left:310.4px;top:1781.4px;font-size:38.8px;letter-spacing:-2.02px;color:#231f20;">TRF014</div>
<div class="t ly" style="left:546.3px;top:1781.4px;font-size:38.8px;letter-spacing:-1.75px;color:#231f20;">0.145</div>
<div class="t ly" style="left:725.0px;top:1781.4px;font-size:38.8px;letter-spacing:-1.81px;color:#231f20;">0.29</div>
<div class="t ly" style="left:907.3px;top:1781.4px;font-size:38.8px;letter-spacing:-3.11px;color:#231f20;">60</div>
<div class="t ly" style="left:1073.4px;top:1781.4px;font-size:38.8px;letter-spacing:-1.94px;color:#231f20;">3.0</div>
<div class="t ly" style="left:1257.2px;top:1781.4px;font-size:38.8px;letter-spacing:-2.33px;color:#231f20;">250</div>
<div class="t ly" style="left:1430.7px;top:1781.4px;font-size:38.8px;letter-spacing:-1.81px;color:#231f20;">1.00</div>
<div class="t ly" style="left:1589.0px;top:1781.4px;font-size:38.8px;letter-spacing:-1.94px;color:#231f20;">2.5</div>
<div class="t ly" style="left:1755.6px;top:1781.4px;font-size:38.8px;letter-spacing:-1.94px;color:#231f20;">1.0</div>
<div class="t ly" style="left:1891.7px;top:1781.4px;font-size:38.8px;letter-spacing:-1.94px;color:#231f20;">3.0</div>
<div class="t ly" style="left:2002.3px;top:1781.4px;font-size:38.8px;letter-spacing:-1.94px;color:#231f20;">6.0</div>
<div class="t ly" style="left:2105.0px;top:1781.4px;font-size:38.8px;letter-spacing:-1.81px;color:#231f20;">14.0</div>
<div class="t lw" style="left:297.4px;top:1842.4px;font-size:38.8px;letter-spacing:-2.02px;color:#231f20;">TRF014U</div>
<div class="t lw" style="left:546.3px;top:1842.4px;font-size:38.8px;letter-spacing:-1.75px;color:#231f20;">0.145</div>
<div class="t lw" style="left:725.0px;top:1842.4px;font-size:38.8px;letter-spacing:-1.81px;color:#231f20;">0.29</div>
<div class="t lw" style="left:907.3px;top:1842.4px;font-size:38.8px;letter-spacing:-3.11px;color:#231f20;">60</div>
<div class="t lw" style="left:1073.4px;top:1842.4px;font-size:38.8px;letter-spacing:-1.94px;color:#231f20;">3.0</div>
<div class="t lw" style="left:1257.2px;top:1842.4px;font-size:38.8px;letter-spacing:-2.33px;color:#231f20;">250</div>
<div class="t lw" style="left:1440.7px;top:1842.4px;font-size:38.8px;letter-spacing:-1.94px;color:#231f20;">1.0</div>
<div class="t lw" style="left:1589.0px;top:1842.4px;font-size:38.8px;letter-spacing:-1.94px;color:#231f20;">2.5</div>
<div class="t lw" style="left:1755.6px;top:1842.4px;font-size:38.8px;letter-spacing:-1.94px;color:#231f20;">1.0</div>
<div class="t lw" style="left:1891.7px;top:1842.4px;font-size:38.8px;letter-spacing:-1.94px;color:#231f20;">3.5</div>
<div class="t lw" style="left:2002.3px;top:1842.4px;font-size:38.8px;letter-spacing:-1.94px;color:#231f20;">6.5</div>
<div class="t lw" style="left:2105.0px;top:1842.4px;font-size:38.8px;letter-spacing:-1.81px;color:#231f20;">12.0</div>
<div class="t ly" style="left:310.4px;top:1903.3px;font-size:38.8px;letter-spacing:-2.02px;color:#231f20;">TRF018</div>
<div class="t ly" style="left:546.3px;top:1903.3px;font-size:38.8px;letter-spacing:-1.75px;color:#231f20;">0.180</div>
<div class="t ly" style="left:725.0px;top:1903.3px;font-size:38.8px;letter-spacing:-1.81px;color:#231f20;">0.54</div>
<div class="t ly" style="left:907.3px;top:1903.3px;font-size:38.8px;letter-spacing:-3.11px;color:#231f20;">60</div>
<div class="t ly" style="left:1073.4px;top:1903.3px;font-size:38.8px;letter-spacing:-1.94px;color:#231f20;">3.0</div>
<div class="t ly" style="left:1257.2px;top:1903.3px;font-size:38.8px;letter-spacing:-2.33px;color:#231f20;">250</div>
<div class="t ly" style="left:1440.7px;top:1903.3px;font-size:38.8px;letter-spacing:-1.94px;color:#231f20;">3.0</div>
<div class="t ly" style="left:1589.0px;top:1903.3px;font-size:38.8px;letter-spacing:-1.94px;color:#231f20;">1.5</div>
<div class="t ly" style="left:1755.6px;top:1903.3px;font-size:38.8px;letter-spacing:-1.94px;color:#231f20;">1.8</div>
<div class="t ly" style="left:1891.7px;top:1903.3px;font-size:38.8px;letter-spacing:-1.94px;color:#231f20;">1.0</div>
<div class="t ly" style="left:2002.3px;top:1903.3px;font-size:38.8px;letter-spacing:-1.94px;color:#231f20;">2.2</div>
<div class="t ly" style="left:2115.0px;top:1903.3px;font-size:38.8px;letter-spacing:-1.94px;color:#231f20;">4.0</div>
<div class="t lw" style="left:297.4px;top:1964.3px;font-size:38.8px;letter-spacing:-2.02px;color:#231f20;">TRF018U</div>
<div class="t lw" style="left:546.3px;top:1964.3px;font-size:38.8px;letter-spacing:-1.75px;color:#231f20;">0.180</div>
<div class="t lw" style="left:725.0px;top:1964.3px;font-size:38.8px;letter-spacing:-1.81px;color:#231f20;">0.54</div>
<div class="t lw" style="left:907.3px;top:1964.3px;font-size:38.8px;letter-spacing:-3.11px;color:#231f20;">60</div>
<div class="t lw" style="left:1073.4px;top:1964.3px;font-size:38.8px;letter-spacing:-1.94px;color:#231f20;">3.0</div>
<div class="t lw" style="left:1257.2px;top:1964.3px;font-size:38.8px;letter-spacing:-2.33px;color:#231f20;">250</div>
<div class="t lw" style="left:1440.7px;top:1964.3px;font-size:38.8px;letter-spacing:-1.94px;color:#231f20;">3.0</div>
<div class="t lw" style="left:1589.0px;top:1964.3px;font-size:38.8px;letter-spacing:-1.94px;color:#231f20;">1.5</div>
<div class="t lw" style="left:1755.6px;top:1964.3px;font-size:38.8px;letter-spacing:-1.94px;color:#231f20;">1.8</div>
<div class="t lw" style="left:1891.7px;top:1964.3px;font-size:38.8px;letter-spacing:-1.94px;color:#231f20;">1.0</div>
<div class="t lw" style="left:2002.3px;top:1964.3px;font-size:38.8px;letter-spacing:-1.94px;color:#231f20;">2.2</div>
<div class="t lw" style="left:2115.0px;top:1964.3px;font-size:38.8px;letter-spacing:-1.94px;color:#231f20;">4.0</div>
<div class="t ly" style="left:310.4px;top:2025.2px;font-size:38.8px;letter-spacing:-2.02px;color:#231f20;">TRF020</div>
<div class="t ly" style="left:546.3px;top:2025.2px;font-size:38.8px;letter-spacing:-1.75px;color:#231f20;">0.200</div>
<div class="t ly" style="left:735.0px;top:2025.2px;font-size:38.8px;letter-spacing:-1.94px;color:#231f20;">0.6</div>
<div class="t ly" style="left:907.3px;top:2025.2px;font-size:38.8px;letter-spacing:-3.11px;color:#231f20;">60</div>
<div class="t ly" style="left:1073.4px;top:2025.2px;font-size:38.8px;letter-spacing:-1.94px;color:#231f20;">3.0</div>
<div class="t ly" style="left:1257.2px;top:2025.2px;font-size:38.8px;letter-spacing:-2.33px;color:#231f20;">250</div>
<div class="t ly" style="left:1440.7px;top:2025.2px;font-size:38.8px;letter-spacing:-1.94px;color:#231f20;">3.0</div>
<div class="t ly" style="left:1589.0px;top:2025.2px;font-size:38.8px;letter-spacing:-1.94px;color:#231f20;">5.0</div>
<div class="t ly" style="left:1755.6px;top:2025.2px;font-size:38.8px;letter-spacing:-1.94px;color:#231f20;">1.8</div>
<div class="t ly" style="left:1891.7px;top:2025.2px;font-size:38.8px;letter-spacing:-1.94px;color:#231f20;">1.7</div>
<div class="t ly" style="left:2002.3px;top:2025.2px;font-size:38.8px;letter-spacing:-1.94px;color:#231f20;">3.5</div>
<div class="t ly" style="left:2105.0px;top:2025.2px;font-size:38.8px;letter-spacing:-1.81px;color:#231f20;">6.30</div>
<div class="t lw" style="left:310.4px;top:2086.2px;font-size:38.8px;letter-spacing:-2.02px;color:#231f20;">TRF030</div>
<div class="t lw" style="left:546.3px;top:2086.2px;font-size:38.8px;letter-spacing:-1.75px;color:#231f20;">0.300</div>
<div class="t lw" style="left:725.0px;top:2086.2px;font-size:38.8px;letter-spacing:-1.81px;color:#231f20;">0.60</div>
<div class="t lw" style="left:907.3px;top:2086.2px;font-size:38.8px;letter-spacing:-3.11px;color:#231f20;">60</div>
<div class="t lw" style="left:1073.4px;top:2086.2px;font-size:38.8px;letter-spacing:-1.94px;color:#231f20;">3.0</div>
<div class="t lw" style="left:1257.2px;top:2086.2px;font-size:38.8px;letter-spacing:-2.33px;color:#231f20;">250</div>
<div class="t lw" style="left:1440.7px;top:2086.2px;font-size:38.8px;letter-spacing:-1.94px;color:#231f20;">3.0</div>
<div class="t lw" style="left:1589.0px;top:2086.2px;font-size:38.8px;letter-spacing:-1.94px;color:#231f20;">6.0</div>
<div class="t lw" style="left:1755.6px;top:2086.2px;font-size:38.8px;letter-spacing:-1.94px;color:#231f20;">1.8</div>
<div class="t lw" style="left:1891.7px;top:2086.2px;font-size:38.8px;letter-spacing:-1.94px;color:#231f20;">1.0</div>
<div class="t lw" style="left:2002.3px;top:2086.2px;font-size:38.8px;letter-spacing:-1.94px;color:#231f20;">2.2</div>
<div class="t lw" style="left:2105.0px;top:2086.2px;font-size:38.8px;letter-spacing:-1.81px;color:#231f20;">3.50</div>
<div class="t ly" style="left:310.4px;top:2147.1px;font-size:38.8px;letter-spacing:-2.02px;color:#231f20;">TRF040</div>
<div class="t ly" style="left:546.3px;top:2147.1px;font-size:38.8px;letter-spacing:-1.75px;color:#231f20;">0.400</div>
<div class="t ly" style="left:714.9px;top:2147.1px;font-size:38.8px;letter-spacing:-1.75px;color:#231f20;">0.800</div>
<div class="t ly" style="left:907.3px;top:2147.1px;font-size:38.8px;letter-spacing:-3.11px;color:#231f20;">60</div>
<div class="t ly" style="left:1073.4px;top:2147.1px;font-size:38.8px;letter-spacing:-1.94px;color:#231f20;">5.5</div>
<div class="t ly" style="left:1257.2px;top:2147.1px;font-size:38.8px;letter-spacing:-2.33px;color:#231f20;">250</div>
<div class="t ly" style="left:1440.7px;top:2147.1px;font-size:38.8px;letter-spacing:-1.94px;color:#231f20;">3.0</div>
<div class="t ly" style="left:1604.0px;top:2147.1px;font-size:38.8px;letter-spacing:-1.55px;color:#231f20;">8</div>
<div class="t ly" style="left:1755.6px;top:2147.1px;font-size:38.8px;letter-spacing:-1.94px;color:#231f20;">1.8</div>
<div class="t ly" style="left:1881.7px;top:2147.1px;font-size:38.8px;letter-spacing:-1.81px;color:#231f20;">0.80</div>
<div class="t ly" style="left:1992.3px;top:2147.1px;font-size:38.8px;letter-spacing:-1.81px;color:#231f20;">1.60</div>
<div class="t ly" style="left:2105.0px;top:2147.1px;font-size:38.8px;letter-spacing:-1.81px;color:#231f20;">3.20</div>
<div class="t lw" style="left:310.4px;top:2208.1px;font-size:38.8px;letter-spacing:-2.02px;color:#231f20;">TRF050</div>
<div class="t lw" style="left:546.3px;top:2208.1px;font-size:38.8px;letter-spacing:-1.75px;color:#231f20;">0.500</div>
<div class="t lw" style="left:725.0px;top:2208.1px;font-size:38.8px;letter-spacing:-1.81px;color:#231f20;">1.00</div>
<div class="t lw" style="left:907.3px;top:2208.1px;font-size:38.8px;letter-spacing:-3.11px;color:#231f20;">60</div>
<div class="t lw" style="left:1073.4px;top:2208.1px;font-size:38.8px;letter-spacing:-1.94px;color:#231f20;">6.0</div>
<div class="t lw" style="left:1257.2px;top:2208.1px;font-size:38.8px;letter-spacing:-2.33px;color:#231f20;">250</div>
<div class="t lw" style="left:1440.7px;top:2208.1px;font-size:38.8px;letter-spacing:-1.94px;color:#231f20;">3.0</div>
<div class="t lw" style="left:1594.0px;top:2208.1px;font-size:38.8px;letter-spacing:-3.11px;color:#231f20;">10</div>
<div class="t lw" style="left:1755.6px;top:2208.1px;font-size:38.8px;letter-spacing:-1.94px;color:#231f20;">3.0</div>
<div class="t lw" style="left:1881.7px;top:2208.1px;font-size:38.8px;letter-spacing:-1.81px;color:#231f20;">0.56</div>
<div class="t lw" style="left:1992.3px;top:2208.1px;font-size:38.8px;letter-spacing:-1.81px;color:#231f20;">1.40</div>
<div class="t lw" style="left:2105.0px;top:2208.1px;font-size:38.8px;letter-spacing:-1.81px;color:#231f20;">2.52</div>
<div class="t ly" style="left:310.4px;top:2269.0px;font-size:38.8px;letter-spacing:-2.02px;color:#231f20;">TRF060</div>
<div class="t ly" style="left:546.3px;top:2269.0px;font-size:38.8px;letter-spacing:-1.75px;color:#231f20;">0.600</div>
<div class="t ly" style="left:725.0px;top:2269.0px;font-size:38.8px;letter-spacing:-1.81px;color:#231f20;">1.20</div>
<div class="t ly" style="left:907.3px;top:2269.0px;font-size:38.8px;letter-spacing:-3.11px;color:#231f20;">60</div>
<div class="t ly" style="left:1073.4px;top:2269.0px;font-size:38.8px;letter-spacing:-1.94px;color:#231f20;">7.0</div>
<div class="t ly" style="left:1257.2px;top:2269.0px;font-size:38.8px;letter-spacing:-2.33px;color:#231f20;">250</div>
<div class="t ly" style="left:1440.7px;top:2269.0px;font-size:38.8px;letter-spacing:-1.94px;color:#231f20;">3.0</div>
<div class="t ly" style="left:1594.0px;top:2269.0px;font-size:38.8px;letter-spacing:-3.11px;color:#231f20;">12</div>
<div class="t ly" style="left:1755.6px;top:2269.0px;font-size:38.8px;letter-spacing:-1.94px;color:#231f20;">3.2</div>
<div class="t ly" style="left:1881.7px;top:2269.0px;font-size:38.8px;letter-spacing:-1.81px;color:#231f20;">0.40</div>
<div class="t ly" style="left:1992.3px;top:2269.0px;font-size:38.8px;letter-spacing:-1.81px;color:#231f20;">1.10</div>
<div class="t ly" style="left:2105.0px;top:2269.0px;font-size:38.8px;letter-spacing:-1.81px;color:#231f20;">2.16</div>
<div class="t lw" style="left:310.4px;top:2330.0px;font-size:38.8px;letter-spacing:-2.02px;color:#231f20;">TRF080</div>
<div class="t lw" style="left:546.3px;top:2330.0px;font-size:38.8px;letter-spacing:-1.75px;color:#231f20;">0.800</div>
<div class="t lw" style="left:725.0px;top:2330.0px;font-size:38.8px;letter-spacing:-1.81px;color:#231f20;">1.60</div>
<div class="t lw" style="left:907.3px;top:2330.0px;font-size:38.8px;letter-spacing:-3.11px;color:#231f20;">60</div>
<div class="t lw" style="left:1073.4px;top:2330.0px;font-size:38.8px;letter-spacing:-1.94px;color:#231f20;">8.0</div>
<div class="t lw" style="left:1257.2px;top:2330.0px;font-size:38.8px;letter-spacing:-2.33px;color:#231f20;">250</div>
<div class="t lw" style="left:1440.7px;top:2330.0px;font-size:38.8px;letter-spacing:-1.94px;color:#231f20;">4.0</div>
<div class="t lw" style="left:1594.0px;top:2330.0px;font-size:38.8px;letter-spacing:-3.11px;color:#231f20;">18</div>
<div class="t lw" style="left:1755.6px;top:2330.0px;font-size:38.8px;letter-spacing:-1.94px;color:#231f20;">3.6</div>
<div class="t lw" style="left:1881.7px;top:2330.0px;font-size:38.8px;letter-spacing:-1.81px;color:#231f20;">0.32</div>
<div class="t lw" style="left:1992.3px;top:2330.0px;font-size:38.8px;letter-spacing:-1.81px;color:#231f20;">0.80</div>
<div class="t lw" style="left:2105.0px;top:2330.0px;font-size:38.8px;letter-spacing:-1.81px;color:#231f20;">1.44</div>
<div class="t ly" style="left:310.4px;top:2390.9px;font-size:38.8px;letter-spacing:-2.02px;color:#231f20;">TRF100</div>
<div class="t ly" style="left:546.3px;top:2390.9px;font-size:38.8px;letter-spacing:-1.75px;color:#231f20;">1.000</div>
<div class="t ly" style="left:725.0px;top:2390.9px;font-size:38.8px;letter-spacing:-1.81px;color:#231f20;">2.00</div>
<div class="t ly" style="left:907.3px;top:2390.9px;font-size:38.8px;letter-spacing:-3.11px;color:#231f20;">60</div>
<div class="t ly" style="left:1063.4px;top:2390.9px;font-size:38.8px;letter-spacing:-1.81px;color:#231f20;">10.0</div>
<div class="t ly" style="left:1257.2px;top:2390.9px;font-size:38.8px;letter-spacing:-2.33px;color:#231f20;">250</div>
<div class="t ly" style="left:1440.7px;top:2390.9px;font-size:38.8px;letter-spacing:-1.94px;color:#231f20;">5.0</div>
<div class="t ly" style="left:1594.0px;top:2390.9px;font-size:38.8px;letter-spacing:-3.11px;color:#231f20;">21</div>
<div class="t ly" style="left:1755.6px;top:2390.9px;font-size:38.8px;letter-spacing:-1.94px;color:#231f20;">2.9</div>
<div class="t ly" style="left:1881.7px;top:2390.9px;font-size:38.8px;letter-spacing:-1.81px;color:#231f20;">0.22</div>
<div class="t ly" style="left:1992.3px;top:2390.9px;font-size:38.8px;letter-spacing:-1.81px;color:#231f20;">0.50</div>
<div class="t ly" style="left:2105.0px;top:2390.9px;font-size:38.8px;letter-spacing:-1.81px;color:#231f20;">1.45</div>
<div class="t lw" style="left:310.4px;top:2451.9px;font-size:38.8px;letter-spacing:-2.02px;color:#231f20;">TRF150</div>
<div class="t lw" style="left:546.3px;top:2451.9px;font-size:38.8px;letter-spacing:-1.75px;color:#231f20;">1.500</div>
<div class="t lw" style="left:725.0px;top:2451.9px;font-size:38.8px;letter-spacing:-1.81px;color:#231f20;">3.00</div>
<div class="t lw" style="left:907.3px;top:2451.9px;font-size:38.8px;letter-spacing:-3.11px;color:#231f20;">60</div>
<div class="t lw" style="left:1063.4px;top:2451.9px;font-size:38.8px;letter-spacing:-1.81px;color:#231f20;">15.0</div>
<div class="t lw" style="left:1257.2px;top:2451.9px;font-size:38.8px;letter-spacing:-2.33px;color:#231f20;">250</div>
<div class="t lw" style="left:1430.7px;top:2451.9px;font-size:38.8px;letter-spacing:-1.81px;color:#231f20;">7.50</div>
<div class="t lw" style="left:1579.0px;top:2451.9px;font-size:38.8px;letter-spacing:-1.81px;color:#231f20;">25.0</div>
<div class="t lw" style="left:1755.6px;top:2451.9px;font-size:38.8px;letter-spacing:-1.94px;color:#231f20;">3.5</div>
<div class="t lw" style="left:1881.7px;top:2451.9px;font-size:38.8px;letter-spacing:-1.81px;color:#231f20;">0.12</div>
<div class="t lw" style="left:1992.3px;top:2451.9px;font-size:38.8px;letter-spacing:-1.81px;color:#231f20;">0.28</div>
<div class="t lw" style="left:2105.0px;top:2451.9px;font-size:38.8px;letter-spacing:-1.81px;color:#231f20;">0.68</div>
<div class="t ly" style="left:310.4px;top:2512.9px;font-size:38.8px;letter-spacing:-2.02px;color:#231f20;">TRF200</div>
<div class="t ly" style="left:546.3px;top:2512.9px;font-size:38.8px;letter-spacing:-1.75px;color:#231f20;">2.000</div>
<div class="t ly" style="left:725.0px;top:2512.9px;font-size:38.8px;letter-spacing:-1.81px;color:#231f20;">4.00</div>
<div class="t ly" style="left:907.3px;top:2512.9px;font-size:38.8px;letter-spacing:-3.11px;color:#231f20;">60</div>
<div class="t ly" style="left:1063.4px;top:2512.9px;font-size:38.8px;letter-spacing:-1.81px;color:#231f20;">20.0</div>
<div class="t ly" style="left:1257.2px;top:2512.9px;font-size:38.8px;letter-spacing:-2.33px;color:#231f20;">250</div>
<div class="t ly" style="left:1430.7px;top:2512.9px;font-size:38.8px;letter-spacing:-1.81px;color:#231f20;">10.0</div>
<div class="t ly" style="left:1594.0px;top:2512.9px;font-size:38.8px;letter-spacing:-3.11px;color:#231f20;">28</div>
<div class="t ly" style="left:1755.6px;top:2512.9px;font-size:38.8px;letter-spacing:-1.94px;color:#231f20;">4.5</div>
<div class="t ly" style="left:1881.7px;top:2512.9px;font-size:38.8px;letter-spacing:-1.81px;color:#231f20;">0.09</div>
<div class="t ly" style="left:1982.3px;top:2512.9px;font-size:38.8px;letter-spacing:-1.75px;color:#231f20;">0.192</div>
<div class="t ly" style="left:2105.0px;top:2512.9px;font-size:38.8px;letter-spacing:-1.81px;color:#231f20;">0.42</div>
<div class="t lw" style="left:347.1px;top:1218.3px;font-size:37.2px;letter-spacing:-2.17px;color:#231f20;">P/N</div>
<div class="t lw" style="left:546.6px;top:1236.4px;font-size:37.0px;letter-spacing:-0.55px;color:#231f20;">I</div><div class="t lws" style="left:556.4px;top:1253.3px;font-size:17.0px;letter-spacing:-0.66px;color:#231f20;">H</div><div class="t lw" style="left:568.0px;top:1236.4px;font-size:37.0px;letter-spacing:-0.93px;color:#231f20;">, (A)</div>
<div class="t lw" style="left:717.5px;top:1236.4px;font-size:37.0px;letter-spacing:-0.52px;color:#231f20;">I</div><div class="t lws" style="left:727.3px;top:1253.3px;font-size:17.0px;letter-spacing:-0.52px;color:#231f20;">T</div><div class="t lw" style="left:737.1px;top:1236.4px;font-size:37.0px;letter-spacing:-0.88px;color:#231f20;">, (A)</div>
<div class="t lw" style="left:864.4px;top:1236.4px;font-size:37.0px;letter-spacing:-3.14px;color:#231f20;">V </div><div class="t lws" style="left:896.2px;top:1249.9px;font-size:21.0px;letter-spacing:-1.36px;color:#231f20;">max,</div><div class="t lw" style="left:937.6px;top:1236.4px;font-size:37.0px;letter-spacing:-1.78px;color:#231f20;"> (V)</div>
<div class="t lw" style="left:1040.2px;top:1236.4px;font-size:37.0px;letter-spacing:-1.99px;color:#231f20;">I </div><div class="t lws" style="left:1058.7px;top:1249.9px;font-size:21.0px;letter-spacing:-1.92px;color:#231f20;">max</div><div class="t lw" style="left:1094.5px;top:1236.4px;font-size:37.0px;letter-spacing:-1.69px;color:#231f20;">, (A)</div>
<div class="t lw" style="left:1222.5px;top:1236.4px;font-size:37.0px;letter-spacing:-3.14px;color:#231f20;">V </div><div class="t lws" style="left:1254.3px;top:1249.9px;font-size:21.0px;letter-spacing:-1.36px;color:#231f20;">max,</div><div class="t lw" style="left:1295.7px;top:1236.4px;font-size:37.0px;letter-spacing:-1.78px;color:#231f20;"> (V)</div>
<div class="t lw" style="left:1443.0px;top:1236.4px;font-size:37.0px;letter-spacing:-1.91px;color:#231f20;">(A)</div>
<div class="t lw" style="left:1567.5px;top:1236.4px;font-size:37.0px;letter-spacing:-0.94px;color:#231f20;">(Sec.)</div>
<div class="t lw" style="left:1704.2px;top:1236.4px;font-size:37.0px;letter-spacing:-1.81px;color:#231f20;">Pd </div><div class="t lws" style="left:1756.1px;top:1249.9px;font-size:21.0px;letter-spacing:-0.91px;color:#231f20;">typ</div><div class="t lw" style="left:1782.3px;top:1236.4px;font-size:37.0px;letter-spacing:-1.31px;color:#231f20;">, (W)</div>
<div class="t lw" style="left:1882.2px;top:1236.4px;font-size:37.0px;letter-spacing:-1.77px;color:#231f20;">R </div><div class="t lws" style="left:1917.5px;top:1249.9px;font-size:21.0px;letter-spacing:-0.63px;color:#231f20;">min,</div>
<div class="t lw" style="left:1986.8px;top:1236.4px;font-size:37.0px;letter-spacing:-1.57px;color:#231f20;">R </div><div class="t lws" style="left:2022.3px;top:1249.9px;font-size:21.0px;letter-spacing:-0.64px;color:#231f20;">max,</div>
<div class="t lw" style="left:2089.5px;top:1236.4px;font-size:37.0px;letter-spacing:-1.14px;color:#231f20;">R1 </div><div class="t lws" style="left:2144.8px;top:1249.9px;font-size:21.0px;letter-spacing:-0.60px;color:#231f20;">max,</div>
<!-- sec_dims -->
<div class="t lw" style="left:391.0px;top:3029.1px;font-size:36.0px;letter-spacing:-1.51px;color:#231f20;">Style1</div>
<div class="t lw" style="left:765.4px;top:3029.1px;font-size:36.0px;letter-spacing:-1.01px;color:#231f20;">Style2</div>
<div class="t lw" style="left:1213.8px;top:3029.1px;font-size:36.0px;letter-spacing:-1.01px;color:#231f20;">Style3</div>
<!-- sec_partnum -->
<div class="t" style="left:1481.4px;top:2786.8px;font-size:24.0px;letter-spacing:-0.49px;color:#1c1c1c;">Max. working voltage:</div>
<div class="t" style="left:1481.4px;top:2809.0px;font-size:24.0px;letter-spacing:-1.00px;color:#1c1c1c;">A=16V</div>
<div class="t" style="left:1481.4px;top:2831.8px;font-size:24.0px;letter-spacing:-1.00px;color:#1c1c1c;">B=30V</div>
<div class="t" style="left:1481.4px;top:2854.5px;font-size:24.0px;letter-spacing:-0.69px;color:#1c1c1c;">C=60/72V</div>
<div class="t" style="left:1481.4px;top:2877.7px;font-size:24.0px;letter-spacing:-0.66px;color:#1c1c1c;">E=90/120V</div>
<div class="t" style="left:1481.4px;top:2900.5px;font-size:24.0px;letter-spacing:-0.98px;color:#1c1c1c;">F=250V</div>
<div class="t" style="left:1481.4px;top:2923.2px;font-size:24.0px;letter-spacing:-0.77px;color:#1c1c1c;">G=600V</div>
<div class="t" style="left:1481.4px;top:2947.0px;font-size:24.0px;letter-spacing:-1.04px;color:#1c1c1c;">M=265V</div>
<div class="t" style="left:1480.4px;top:3021.2px;font-size:24.0px;letter-spacing:-0.80px;color:#1c1c1c;">Lot No</div>
<div class="t" style="left:1748.2px;top:2764.1px;font-size:24.0px;letter-spacing:-0.85px;color:#1c1c1c;">X</div>
<div class="t" style="left:1820.4px;top:2764.1px;font-size:24.0px;letter-spacing:-1.08px;color:#1c1c1c;">012</div>
<div class="t" style="left:1762.3px;top:2985.9px;font-size:24.0px;letter-spacing:-2.21px;color:#1c1c1c;">XX</div>
<div class="t" style="left:1930.1px;top:2786.8px;font-size:24.0px;letter-spacing:-0.50px;color:#1c1c1c;">Manufacturer&#x27;s Trademark</div>
<div class="t" style="left:1980.6px;top:2807.0px;font-size:24.0px;letter-spacing:-0.56px;color:#1c1c1c;">Packaging Options:</div>
<div class="t" style="left:1979.6px;top:2837.3px;font-size:24.0px;letter-spacing:-0.39px;color:#1c1c1c;">“ - ” Bulk package</div>
<div class="t" style="left:1979.6px;top:2867.1px;font-size:24.0px;letter-spacing:-0.18px;color:#1c1c1c;">“ -T ” Tape &amp; Reel</div>
<div class="t" style="left:1877.0px;top:3021.2px;font-size:24.0px;letter-spacing:-0.54px;color:#1c1c1c;">Holding current:0.12A</div>
<!-- sec_footer -->
<div class="t sf" style="left:138.8px;top:3102.7px;font-size:43.4px;letter-spacing:0.02px;color:#111;">TEL: 86-0769-3892 0554</div>
<div class="t sf" style="left:718.3px;top:3102.7px;font-size:43.4px;letter-spacing:-0.02px;color:#111;">FAX: 86-0769-8793 2077</div>
<div class="t sf" style="left:1300.6px;top:3115.5px;font-size:43.4px;letter-spacing:0.11px;color:#111;">E-mail:sales@tlcet.com.cn</div>
<div class="t sf" style="left:138.8px;top:3166.5px;font-size:43.4px;letter-spacing:0.14px;color:#111;">Address:No.18,5th GaoLi Road,TangXia Town,DongGuan,GuangDong,P.R China 523710</div>
</body></html>
